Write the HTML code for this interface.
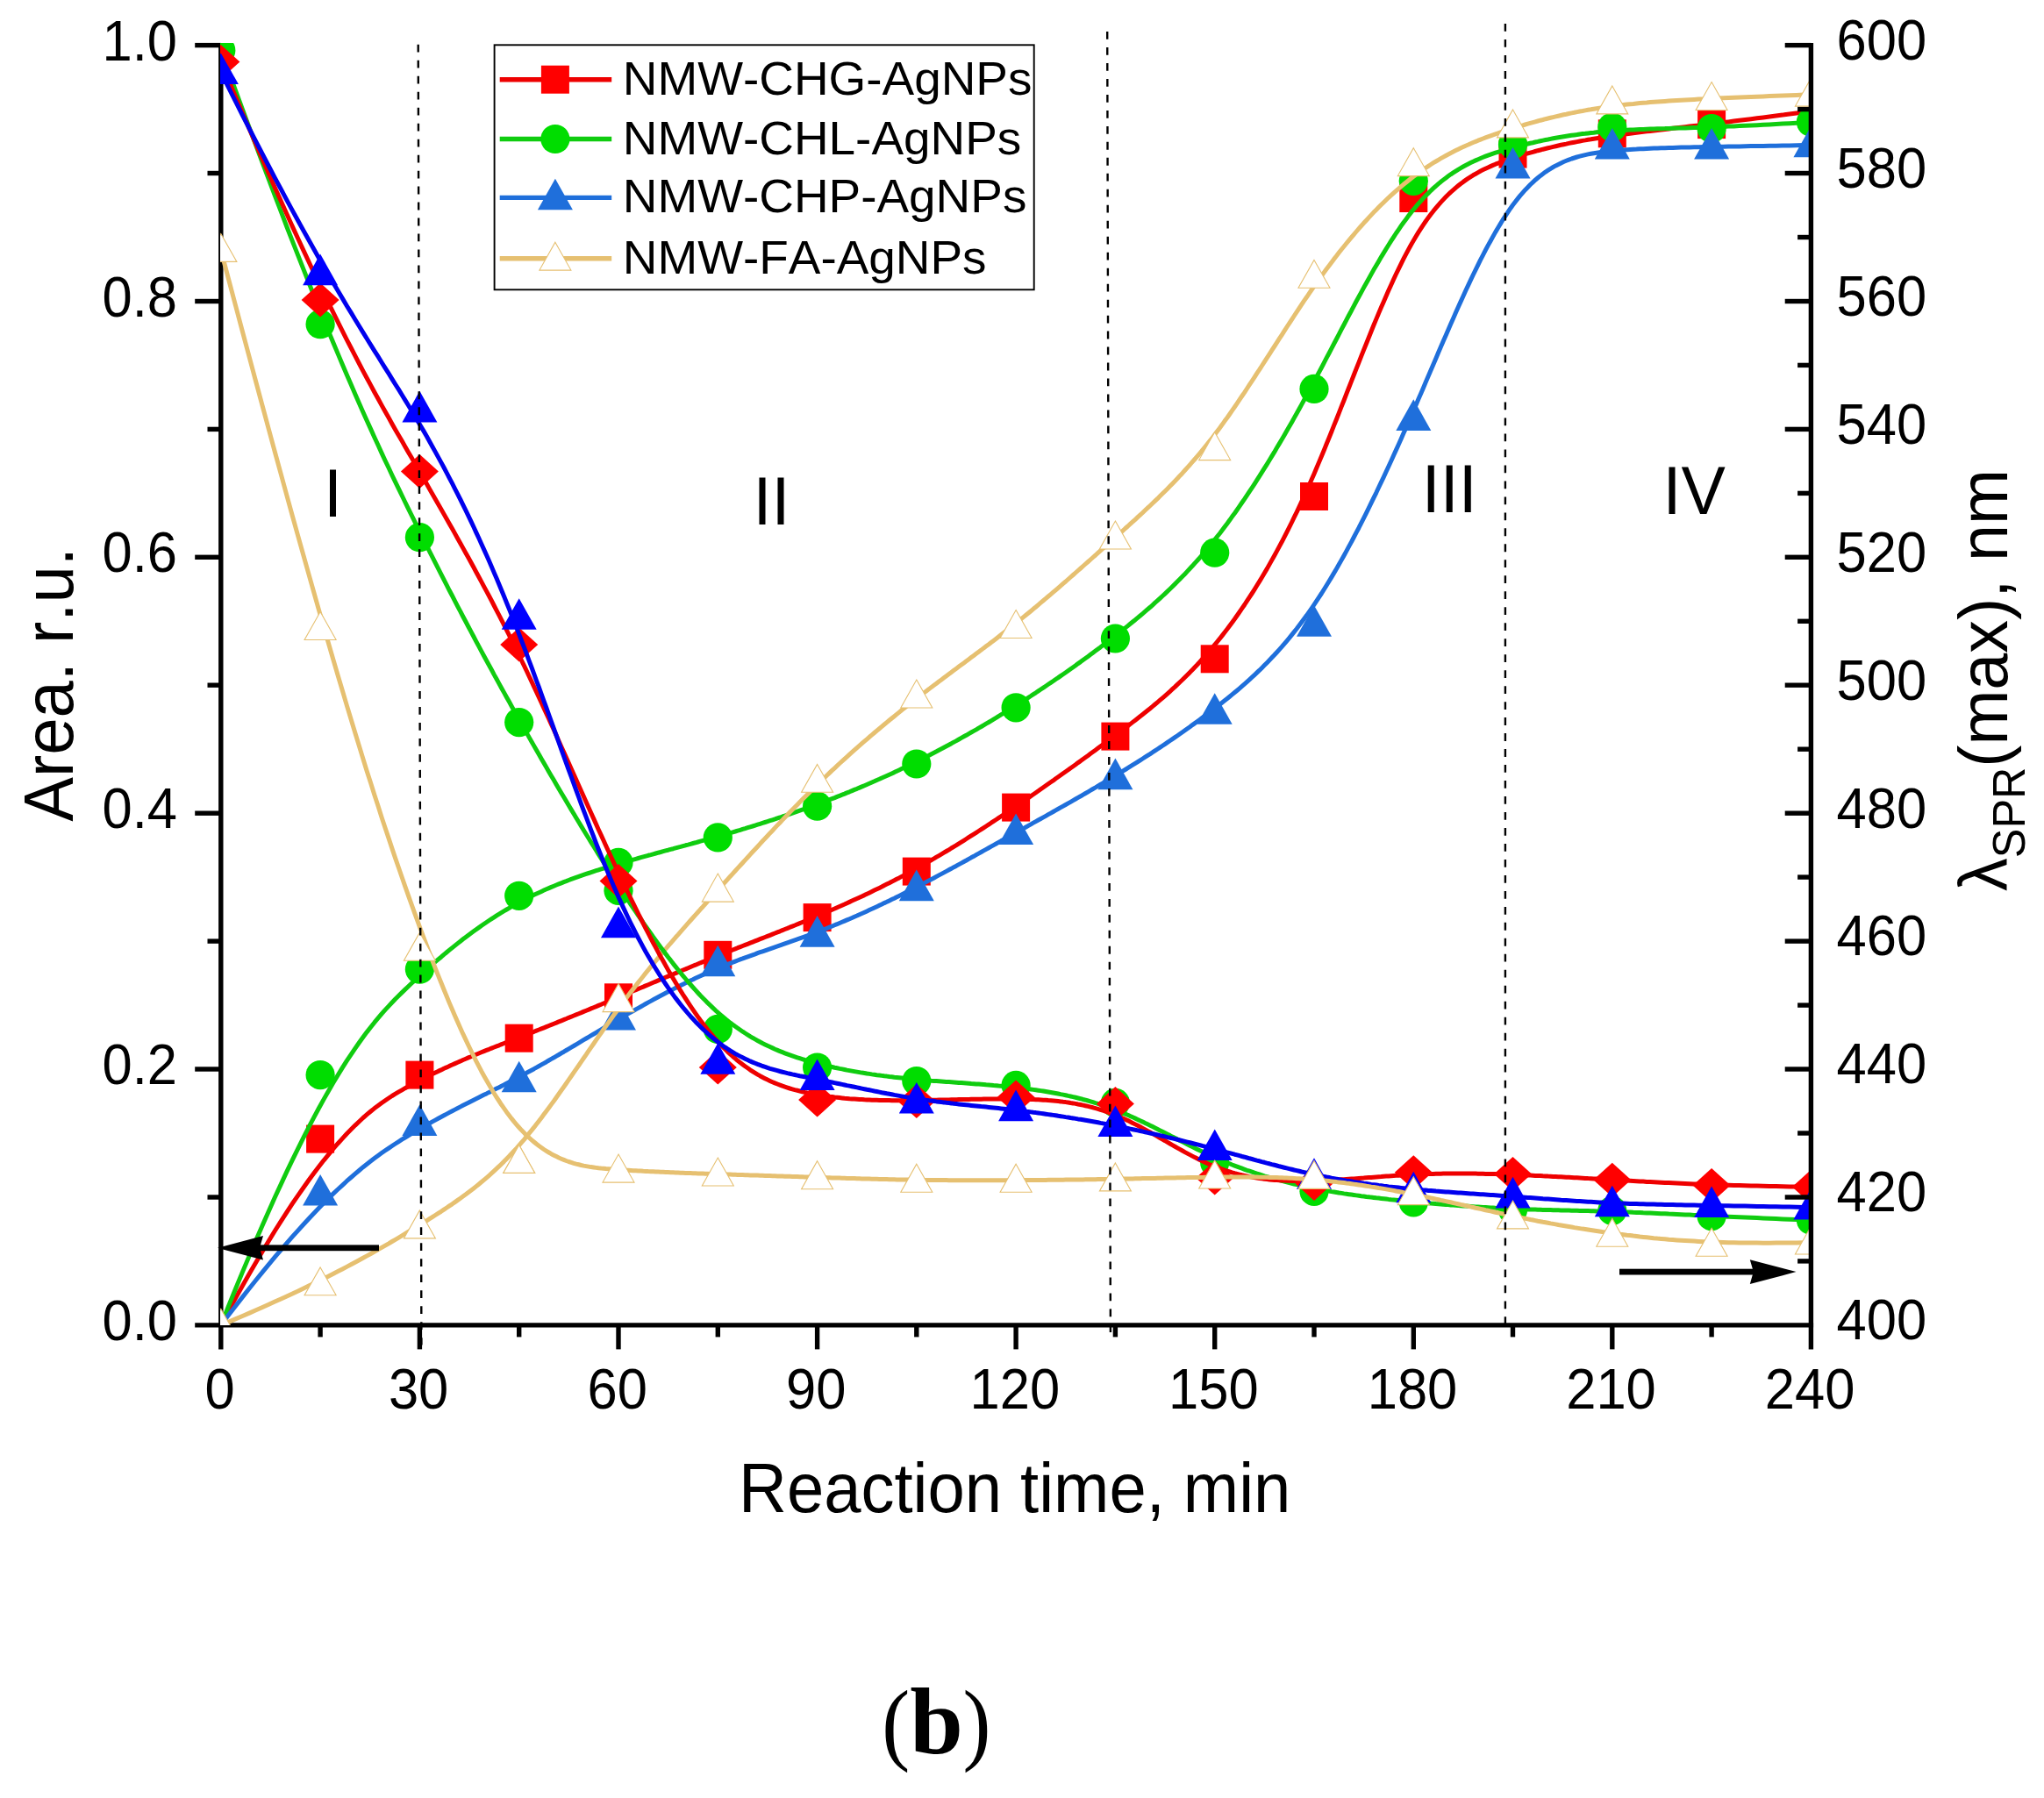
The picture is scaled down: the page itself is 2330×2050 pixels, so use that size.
<!DOCTYPE html>
<html><head><meta charset="utf-8"><title>Figure (b)</title>
<style>html,body{margin:0;padding:0;background:#fff}svg{display:block}text{font-family:"Liberation Sans",sans-serif;fill:#000;font-kerning:none}.s text{font-family:"Liberation Serif",serif}</style></head><body>
<svg width="2330" height="2050" viewBox="0 0 2330 2050">
<rect width="2330" height="2050" fill="#fff"/>
<defs><clipPath id="c"><rect x="251.0" y="49.1" width="1813.4" height="1461.8"/></clipPath></defs>
<g stroke="#000" stroke-width="5.4" fill="none">
<line x1="251.8" y1="48.9" x2="251.8" y2="1538.4"/>
<line x1="222.2" y1="1510.9" x2="2067.1" y2="1510.9"/>
<line x1="236.5" y1="1365.0" x2="251.8" y2="1365.0"/>
<line x1="222.2" y1="1219.0" x2="251.8" y2="1219.0"/>
<line x1="236.5" y1="1073.1" x2="251.8" y2="1073.1"/>
<line x1="222.2" y1="927.2" x2="251.8" y2="927.2"/>
<line x1="236.5" y1="781.2" x2="251.8" y2="781.2"/>
<line x1="222.2" y1="635.3" x2="251.8" y2="635.3"/>
<line x1="236.5" y1="489.4" x2="251.8" y2="489.4"/>
<line x1="222.2" y1="343.5" x2="251.8" y2="343.5"/>
<line x1="236.5" y1="197.5" x2="251.8" y2="197.5"/>
<line x1="222.2" y1="51.6" x2="251.8" y2="51.6"/>
<line x1="365.1" y1="1510.9" x2="365.1" y2="1524.4"/>
<line x1="478.4" y1="1510.9" x2="478.4" y2="1538.4"/>
<line x1="591.7" y1="1510.9" x2="591.7" y2="1524.4"/>
<line x1="705.0" y1="1510.9" x2="705.0" y2="1538.4"/>
<line x1="818.3" y1="1510.9" x2="818.3" y2="1524.4"/>
<line x1="931.6" y1="1510.9" x2="931.6" y2="1538.4"/>
<line x1="1044.8" y1="1510.9" x2="1044.8" y2="1524.4"/>
<line x1="1158.1" y1="1510.9" x2="1158.1" y2="1538.4"/>
<line x1="1271.4" y1="1510.9" x2="1271.4" y2="1524.4"/>
<line x1="1384.7" y1="1510.9" x2="1384.7" y2="1538.4"/>
<line x1="1498.0" y1="1510.9" x2="1498.0" y2="1524.4"/>
<line x1="1611.3" y1="1510.9" x2="1611.3" y2="1538.4"/>
<line x1="1724.5" y1="1510.9" x2="1724.5" y2="1524.4"/>
<line x1="1837.8" y1="1510.9" x2="1837.8" y2="1538.4"/>
<line x1="1951.1" y1="1510.9" x2="1951.1" y2="1524.4"/>
</g>
<g clip-path="url(#c)" fill="none" stroke-linecap="butt" stroke-linejoin="round">
<path d="M251.8 1510.9 L260.2 1495.3 L268.4 1480.3 L276.4 1466.0 L284.2 1452.3 L291.8 1439.2 L299.2 1426.7 L306.4 1414.7 L313.4 1403.3 L320.3 1392.4 L326.9 1382.1 L333.4 1372.2 L339.8 1362.8 L346.0 1354.0 L352.0 1345.5 L357.9 1337.5 L363.6 1330.0 L369.2 1322.8 L374.7 1316.1 L380.0 1309.7 L385.2 1303.7 L390.3 1298.1 L395.2 1292.8 L400.1 1287.8 L404.8 1283.1 L409.4 1278.7 L413.9 1274.5 L418.3 1270.7 L422.7 1267.0 L426.9 1263.6 L431.1 1260.5 L435.1 1257.5 L439.1 1254.7 L443.1 1252.0 L446.9 1249.5 L450.7 1247.2 L454.5 1244.9 L458.2 1242.8 L461.8 1240.7 L465.4 1238.8 L469.0 1236.9 L472.5 1235.0 L476.0 1233.2 L479.4 1231.4 L482.9 1229.6 L486.3 1227.9 L489.6 1226.2 L492.9 1224.6 L496.2 1223.0 L499.5 1221.4 L502.8 1219.9 L506.0 1218.3 L509.2 1216.9 L512.3 1215.4 L515.5 1214.0 L518.6 1212.6 L521.7 1211.2 L524.8 1209.9 L527.8 1208.5 L530.9 1207.2 L533.9 1205.9 L536.9 1204.7 L539.9 1203.4 L542.8 1202.2 L545.8 1201.0 L548.7 1199.8 L551.6 1198.6 L554.6 1197.4 L557.5 1196.3 L560.4 1195.1 L563.2 1194.0 L566.1 1192.9 L569.0 1191.8 L571.8 1190.6 L574.7 1189.5 L577.5 1188.4 L580.4 1187.3 L583.2 1186.2 L586.0 1185.1 L588.9 1184.0 L591.7 1182.9 L594.5 1181.8 L597.4 1180.7 L600.2 1179.6 L603.0 1178.5 L605.9 1177.4 L608.7 1176.3 L611.5 1175.1 L614.4 1174.0 L617.2 1172.9 L620.0 1171.8 L622.9 1170.6 L625.7 1169.5 L628.5 1168.4 L631.4 1167.2 L634.2 1166.1 L637.0 1164.9 L639.8 1163.8 L642.7 1162.6 L645.5 1161.5 L648.3 1160.3 L651.2 1159.2 L654.0 1158.0 L656.8 1156.9 L659.7 1155.7 L662.5 1154.6 L665.3 1153.4 L668.2 1152.2 L671.0 1151.1 L673.8 1149.9 L676.7 1148.7 L679.5 1147.6 L682.3 1146.4 L685.2 1145.2 L688.0 1144.0 L690.8 1142.9 L693.7 1141.7 L696.5 1140.5 L699.3 1139.3 L702.2 1138.1 L705.0 1137.0 L707.8 1135.8 L710.7 1134.6 L713.5 1133.4 L716.3 1132.2 L719.1 1131.0 L722.0 1129.8 L724.8 1128.6 L727.6 1127.4 L730.5 1126.2 L733.3 1125.1 L736.1 1123.9 L739.0 1122.7 L741.8 1121.5 L744.6 1120.3 L747.5 1119.1 L750.3 1117.9 L753.1 1116.7 L756.0 1115.5 L758.8 1114.3 L761.6 1113.1 L764.5 1111.9 L767.3 1110.8 L770.1 1109.6 L773.0 1108.4 L775.8 1107.2 L778.6 1106.0 L781.5 1104.9 L784.3 1103.7 L787.1 1102.5 L790.0 1101.3 L792.8 1100.2 L795.6 1099.0 L798.4 1097.8 L801.3 1096.7 L804.1 1095.5 L806.9 1094.4 L809.8 1093.2 L812.6 1092.1 L815.4 1090.9 L818.3 1089.8 L821.1 1088.6 L823.9 1087.5 L826.8 1086.4 L829.6 1085.2 L832.4 1084.1 L835.3 1083.0 L838.1 1081.9 L840.9 1080.7 L843.8 1079.6 L846.6 1078.5 L849.4 1077.4 L852.3 1076.3 L855.1 1075.2 L857.9 1074.1 L860.8 1072.9 L863.6 1071.8 L866.4 1070.7 L869.2 1069.6 L872.1 1068.5 L874.9 1067.4 L877.7 1066.3 L880.6 1065.1 L883.4 1064.0 L886.2 1062.9 L889.1 1061.8 L891.9 1060.6 L894.7 1059.5 L897.6 1058.4 L900.4 1057.2 L903.2 1056.1 L906.1 1055.0 L908.9 1053.8 L911.7 1052.7 L914.6 1051.5 L917.4 1050.4 L920.2 1049.2 L923.1 1048.0 L925.9 1046.8 L928.7 1045.7 L931.6 1044.5 L934.4 1043.3 L937.2 1042.1 L940.1 1040.9 L942.9 1039.7 L945.7 1038.4 L948.5 1037.2 L951.4 1036.0 L954.2 1034.7 L957.0 1033.5 L959.9 1032.2 L962.7 1031.0 L965.5 1029.7 L968.4 1028.4 L971.2 1027.1 L974.0 1025.8 L976.9 1024.5 L979.7 1023.2 L982.5 1021.9 L985.4 1020.6 L988.2 1019.2 L991.0 1017.9 L993.9 1016.5 L996.7 1015.1 L999.5 1013.8 L1002.4 1012.4 L1005.2 1011.0 L1008.0 1009.5 L1010.9 1008.1 L1013.7 1006.7 L1016.5 1005.2 L1019.4 1003.8 L1022.2 1002.3 L1025.0 1000.9 L1027.8 999.4 L1030.7 997.9 L1033.5 996.3 L1036.3 994.8 L1039.2 993.3 L1042.0 991.7 L1044.8 990.2 L1047.7 988.6 L1050.5 987.0 L1053.3 985.4 L1056.2 983.8 L1059.0 982.2 L1061.8 980.5 L1064.7 978.9 L1067.5 977.2 L1070.3 975.6 L1073.2 973.9 L1076.0 972.2 L1078.8 970.5 L1081.7 968.8 L1084.5 967.0 L1087.3 965.3 L1090.2 963.6 L1093.0 961.8 L1095.8 960.1 L1098.7 958.3 L1101.5 956.5 L1104.3 954.7 L1107.1 952.9 L1110.0 951.1 L1112.8 949.3 L1115.6 947.5 L1118.5 945.6 L1121.3 943.8 L1124.1 942.0 L1127.0 940.1 L1129.8 938.2 L1132.6 936.4 L1135.5 934.5 L1138.3 932.6 L1141.1 930.7 L1144.0 928.8 L1146.8 926.9 L1149.6 925.0 L1152.5 923.1 L1155.3 921.2 L1158.1 919.3 L1161.0 917.3 L1163.8 915.4 L1166.6 913.5 L1169.5 911.5 L1172.3 909.6 L1175.1 907.6 L1177.9 905.7 L1180.8 903.7 L1183.6 901.8 L1186.4 899.8 L1189.3 897.8 L1192.1 895.8 L1194.9 893.8 L1197.8 891.8 L1200.6 889.9 L1203.4 887.8 L1206.3 885.8 L1209.1 883.8 L1211.9 881.8 L1214.8 879.8 L1217.6 877.8 L1220.4 875.7 L1223.3 873.7 L1226.1 871.7 L1228.9 869.6 L1231.8 867.6 L1234.6 865.5 L1237.4 863.5 L1240.3 861.4 L1243.1 859.3 L1245.9 857.3 L1248.8 855.2 L1251.6 853.1 L1254.4 851.0 L1257.2 848.9 L1260.1 846.8 L1262.9 844.7 L1265.7 842.6 L1268.6 840.5 L1271.4 838.4 L1274.2 836.3 L1277.1 834.2 L1279.9 832.0 L1282.7 829.9 L1285.6 827.7 L1288.4 825.6 L1291.2 823.4 L1294.1 821.2 L1296.9 819.0 L1299.7 816.8 L1302.6 814.5 L1305.4 812.3 L1308.2 810.0 L1311.1 807.7 L1313.9 805.4 L1316.7 803.0 L1319.6 800.6 L1322.4 798.2 L1325.2 795.8 L1328.1 793.3 L1330.9 790.8 L1333.7 788.3 L1336.5 785.7 L1339.4 783.1 L1342.2 780.4 L1345.0 777.7 L1347.9 775.0 L1350.7 772.2 L1353.5 769.4 L1356.4 766.6 L1359.2 763.7 L1362.0 760.7 L1364.9 757.7 L1367.7 754.6 L1370.5 751.5 L1373.4 748.4 L1376.2 745.2 L1379.0 741.9 L1381.9 738.6 L1384.7 735.2 L1387.5 731.7 L1390.4 728.2 L1393.2 724.6 L1396.0 721.0 L1398.9 717.3 L1401.7 713.5 L1404.5 709.7 L1407.4 705.8 L1410.2 701.8 L1413.0 697.8 L1415.8 693.7 L1418.7 689.5 L1421.5 685.2 L1424.3 680.9 L1427.2 676.5 L1430.0 672.1 L1432.8 667.5 L1435.7 662.9 L1438.5 658.2 L1441.3 653.4 L1444.2 648.6 L1447.0 643.6 L1449.8 638.6 L1452.7 633.5 L1455.5 628.4 L1458.3 623.1 L1461.2 617.8 L1464.0 612.3 L1466.8 606.8 L1469.7 601.2 L1472.5 595.5 L1475.3 589.7 L1478.2 583.9 L1481.0 577.9 L1483.8 571.9 L1486.6 565.7 L1489.5 559.5 L1492.3 553.2 L1495.1 546.7 L1498.0 540.2 L1500.8 533.6 L1503.6 526.9 L1506.5 520.1 L1509.3 513.3 L1512.1 506.3 L1515.0 499.3 L1517.8 492.3 L1520.6 485.2 L1523.5 478.0 L1526.3 470.9 L1529.1 463.7 L1532.0 456.5 L1534.8 449.2 L1537.6 442.0 L1540.5 434.7 L1543.3 427.5 L1546.1 420.3 L1549.0 413.1 L1551.8 405.9 L1554.6 398.8 L1557.5 391.7 L1560.3 384.7 L1563.1 377.7 L1565.9 370.8 L1568.8 363.9 L1571.6 357.1 L1574.4 350.5 L1577.3 343.9 L1580.1 337.4 L1582.9 331.0 L1585.8 324.7 L1588.6 318.5 L1591.4 312.5 L1594.3 306.6 L1597.1 300.8 L1599.9 295.2 L1602.8 289.7 L1605.6 284.4 L1608.4 279.2 L1611.3 274.3 L1614.1 269.5 L1616.9 264.9 L1619.8 260.4 L1622.6 256.2 L1625.4 252.0 L1628.3 248.1 L1631.1 244.3 L1633.9 240.7 L1636.8 237.2 L1639.6 233.8 L1642.4 230.6 L1645.2 227.6 L1648.1 224.6 L1650.9 221.8 L1653.7 219.1 L1656.6 216.6 L1659.4 214.1 L1662.2 211.8 L1665.1 209.5 L1667.9 207.4 L1670.7 205.4 L1673.6 203.4 L1676.4 201.6 L1679.2 199.8 L1682.1 198.2 L1684.9 196.6 L1687.7 195.0 L1690.6 193.6 L1693.4 192.2 L1696.2 190.9 L1699.1 189.6 L1701.9 188.4 L1704.7 187.2 L1707.6 186.1 L1710.4 185.0 L1713.2 184.0 L1716.1 183.0 L1718.9 182.0 L1721.7 181.1 L1724.5 180.1 L1727.4 179.2 L1730.2 178.3 L1733.0 177.5 L1735.9 176.6 L1738.7 175.7 L1741.6 174.9 L1744.4 174.1 L1747.3 173.3 L1750.1 172.5 L1753.0 171.7 L1755.9 171.0 L1758.8 170.2 L1761.7 169.5 L1764.6 168.8 L1767.5 168.1 L1770.5 167.4 L1773.4 166.7 L1776.4 166.0 L1779.4 165.3 L1782.4 164.7 L1785.4 164.1 L1788.4 163.4 L1791.5 162.8 L1794.6 162.2 L1797.7 161.6 L1800.8 161.0 L1803.9 160.4 L1807.1 159.9 L1810.3 159.3 L1813.5 158.8 L1816.7 158.2 L1820.0 157.7 L1823.3 157.2 L1826.6 156.6 L1830.0 156.1 L1833.4 155.6 L1836.8 155.1 L1840.3 154.6 L1843.7 154.1 L1847.3 153.6 L1850.8 153.1 L1854.4 152.7 L1858.1 152.2 L1861.8 151.7 L1865.5 151.3 L1869.3 150.8 L1873.2 150.3 L1877.1 149.8 L1881.1 149.4 L1885.2 148.9 L1889.3 148.4 L1893.6 147.9 L1897.9 147.4 L1902.3 146.9 L1906.8 146.3 L1911.5 145.8 L1916.2 145.2 L1921.0 144.7 L1926.0 144.1 L1931.1 143.5 L1936.3 142.9 L1941.6 142.3 L1947.0 141.6 L1952.6 141.0 L1958.4 140.3 L1964.2 139.6 L1970.3 138.9 L1976.5 138.1 L1982.8 137.3 L1989.3 136.5 L1996.0 135.7 L2002.8 134.8 L2009.9 133.9 L2017.1 133.0 L2024.5 132.0 L2032.1 131.1 L2039.8 130.0 L2047.8 129.0 L2056.0 127.9 L2064.4 126.8" stroke="#ee0000" stroke-width="5.0"/>
<rect x="349.1" y="1282.6" width="32.0" height="32.0" fill="#ff0000"/>
<rect x="462.4" y="1209.6" width="32.0" height="32.0" fill="#ff0000"/>
<rect x="575.7" y="1167.7" width="32.0" height="32.0" fill="#ff0000"/>
<rect x="689.0" y="1121.3" width="32.0" height="32.0" fill="#ff0000"/>
<rect x="802.3" y="1072.8" width="32.0" height="32.0" fill="#ff0000"/>
<rect x="915.6" y="1030.1" width="32.0" height="32.0" fill="#ff0000"/>
<rect x="1028.8" y="977.6" width="32.0" height="32.0" fill="#ff0000"/>
<rect x="1142.1" y="904.6" width="32.0" height="32.0" fill="#ff0000"/>
<rect x="1255.4" y="823.6" width="32.0" height="32.0" fill="#ff0000"/>
<rect x="1368.7" y="735.3" width="32.0" height="32.0" fill="#ff0000"/>
<rect x="1482.0" y="550.0" width="32.0" height="32.0" fill="#ff0000"/>
<rect x="1595.3" y="210.0" width="32.0" height="32.0" fill="#ff0000"/>
<rect x="1708.5" y="159.6" width="32.0" height="32.0" fill="#ff0000"/>
<rect x="1821.8" y="136.3" width="32.0" height="32.0" fill="#ff0000"/>
<rect x="1935.1" y="126.1" width="32.0" height="32.0" fill="#ff0000"/>
<path d="M251.8 1510.9 L260.2 1489.9 L268.4 1469.8 L276.4 1450.4 L284.2 1431.9 L291.8 1414.1 L299.2 1397.0 L306.4 1380.7 L313.4 1365.1 L320.3 1350.1 L326.9 1335.9 L333.4 1322.3 L339.8 1309.3 L346.0 1296.9 L352.0 1285.1 L357.9 1273.9 L363.6 1263.2 L369.2 1253.1 L374.7 1243.5 L380.0 1234.3 L385.2 1225.7 L390.3 1217.4 L395.2 1209.7 L400.1 1202.3 L404.8 1195.3 L409.4 1188.7 L413.9 1182.5 L418.3 1176.6 L422.7 1171.0 L426.9 1165.7 L431.1 1160.7 L435.1 1155.9 L439.1 1151.4 L443.1 1147.1 L446.9 1143.0 L450.7 1139.0 L454.5 1135.2 L458.2 1131.6 L461.8 1128.1 L465.4 1124.7 L469.0 1121.3 L472.5 1118.1 L476.0 1114.8 L479.4 1111.7 L482.9 1108.6 L486.3 1105.5 L489.6 1102.5 L492.9 1099.6 L496.2 1096.7 L499.5 1093.9 L502.8 1091.2 L506.0 1088.4 L509.2 1085.8 L512.3 1083.2 L515.5 1080.6 L518.6 1078.1 L521.7 1075.6 L524.8 1073.2 L527.8 1070.8 L530.9 1068.5 L533.9 1066.2 L536.9 1064.0 L539.9 1061.8 L542.8 1059.7 L545.8 1057.6 L548.7 1055.5 L551.6 1053.5 L554.6 1051.5 L557.5 1049.5 L560.4 1047.6 L563.2 1045.8 L566.1 1043.9 L569.0 1042.1 L571.8 1040.4 L574.7 1038.7 L577.5 1037.0 L580.4 1035.3 L583.2 1033.7 L586.0 1032.1 L588.9 1030.5 L591.7 1029.0 L594.5 1027.5 L597.4 1026.0 L600.2 1024.5 L603.0 1023.1 L605.9 1021.7 L608.7 1020.3 L611.5 1019.0 L614.4 1017.7 L617.2 1016.4 L620.0 1015.1 L622.9 1013.8 L625.7 1012.6 L628.5 1011.4 L631.4 1010.2 L634.2 1009.0 L637.0 1007.9 L639.8 1006.8 L642.7 1005.6 L645.5 1004.6 L648.3 1003.5 L651.2 1002.4 L654.0 1001.4 L656.8 1000.4 L659.7 999.4 L662.5 998.4 L665.3 997.4 L668.2 996.4 L671.0 995.5 L673.8 994.6 L676.7 993.6 L679.5 992.7 L682.3 991.8 L685.2 990.9 L688.0 990.1 L690.8 989.2 L693.7 988.3 L696.5 987.5 L699.3 986.6 L702.2 985.8 L705.0 984.9 L707.8 984.1 L710.7 983.3 L713.5 982.5 L716.3 981.7 L719.1 980.9 L722.0 980.1 L724.8 979.3 L727.6 978.5 L730.5 977.7 L733.3 976.9 L736.1 976.1 L739.0 975.3 L741.8 974.6 L744.6 973.8 L747.5 973.0 L750.3 972.2 L753.1 971.5 L756.0 970.7 L758.8 969.9 L761.6 969.2 L764.5 968.4 L767.3 967.7 L770.1 966.9 L773.0 966.1 L775.8 965.4 L778.6 964.6 L781.5 963.8 L784.3 963.1 L787.1 962.3 L790.0 961.5 L792.8 960.8 L795.6 960.0 L798.4 959.2 L801.3 958.4 L804.1 957.7 L806.9 956.9 L809.8 956.1 L812.6 955.3 L815.4 954.5 L818.3 953.7 L821.1 952.9 L823.9 952.1 L826.8 951.3 L829.6 950.4 L832.4 949.6 L835.3 948.8 L838.1 948.0 L840.9 947.1 L843.8 946.3 L846.6 945.4 L849.4 944.6 L852.3 943.7 L855.1 942.8 L857.9 942.0 L860.8 941.1 L863.6 940.2 L866.4 939.3 L869.2 938.4 L872.1 937.5 L874.9 936.6 L877.7 935.7 L880.6 934.8 L883.4 933.9 L886.2 932.9 L889.1 932.0 L891.9 931.0 L894.7 930.1 L897.6 929.1 L900.4 928.2 L903.2 927.2 L906.1 926.2 L908.9 925.2 L911.7 924.2 L914.6 923.2 L917.4 922.2 L920.2 921.2 L923.1 920.2 L925.9 919.2 L928.7 918.1 L931.6 917.1 L934.4 916.0 L937.2 915.0 L940.1 913.9 L942.9 912.8 L945.7 911.7 L948.5 910.7 L951.4 909.6 L954.2 908.4 L957.0 907.3 L959.9 906.2 L962.7 905.1 L965.5 903.9 L968.4 902.8 L971.2 901.6 L974.0 900.4 L976.9 899.3 L979.7 898.1 L982.5 896.9 L985.4 895.7 L988.2 894.5 L991.0 893.3 L993.9 892.0 L996.7 890.8 L999.5 889.5 L1002.4 888.3 L1005.2 887.0 L1008.0 885.8 L1010.9 884.5 L1013.7 883.2 L1016.5 881.9 L1019.4 880.6 L1022.2 879.2 L1025.0 877.9 L1027.8 876.6 L1030.7 875.2 L1033.5 873.9 L1036.3 872.5 L1039.2 871.1 L1042.0 869.7 L1044.8 868.3 L1047.7 866.9 L1050.5 865.5 L1053.3 864.1 L1056.2 862.6 L1059.0 861.2 L1061.8 859.7 L1064.7 858.2 L1067.5 856.8 L1070.3 855.3 L1073.2 853.8 L1076.0 852.3 L1078.8 850.8 L1081.7 849.2 L1084.5 847.7 L1087.3 846.1 L1090.2 844.6 L1093.0 843.0 L1095.8 841.4 L1098.7 839.8 L1101.5 838.3 L1104.3 836.6 L1107.1 835.0 L1110.0 833.4 L1112.8 831.8 L1115.6 830.1 L1118.5 828.5 L1121.3 826.8 L1124.1 825.1 L1127.0 823.5 L1129.8 821.8 L1132.6 820.1 L1135.5 818.4 L1138.3 816.6 L1141.1 814.9 L1144.0 813.2 L1146.8 811.4 L1149.6 809.7 L1152.5 807.9 L1155.3 806.1 L1158.1 804.4 L1161.0 802.6 L1163.8 800.8 L1166.6 799.0 L1169.5 797.1 L1172.3 795.3 L1175.1 793.5 L1177.9 791.6 L1180.8 789.8 L1183.6 787.9 L1186.4 786.0 L1189.3 784.1 L1192.1 782.2 L1194.9 780.3 L1197.8 778.4 L1200.6 776.5 L1203.4 774.5 L1206.3 772.6 L1209.1 770.6 L1211.9 768.7 L1214.8 766.7 L1217.6 764.7 L1220.4 762.7 L1223.3 760.7 L1226.1 758.7 L1228.9 756.6 L1231.8 754.6 L1234.6 752.5 L1237.4 750.5 L1240.3 748.4 L1243.1 746.3 L1245.9 744.2 L1248.8 742.1 L1251.6 740.0 L1254.4 737.9 L1257.2 735.7 L1260.1 733.6 L1262.9 731.4 L1265.7 729.2 L1268.6 727.0 L1271.4 724.8 L1274.2 722.6 L1277.1 720.4 L1279.9 718.1 L1282.7 715.9 L1285.6 713.6 L1288.4 711.3 L1291.2 709.0 L1294.1 706.7 L1296.9 704.3 L1299.7 702.0 L1302.6 699.6 L1305.4 697.2 L1308.2 694.7 L1311.1 692.3 L1313.9 689.8 L1316.7 687.2 L1319.6 684.7 L1322.4 682.1 L1325.2 679.5 L1328.1 676.8 L1330.9 674.2 L1333.7 671.5 L1336.5 668.7 L1339.4 665.9 L1342.2 663.1 L1345.0 660.2 L1347.9 657.3 L1350.7 654.4 L1353.5 651.4 L1356.4 648.3 L1359.2 645.3 L1362.0 642.1 L1364.9 639.0 L1367.7 635.8 L1370.5 632.5 L1373.4 629.2 L1376.2 625.8 L1379.0 622.4 L1381.9 618.9 L1384.7 615.4 L1387.5 611.8 L1390.4 608.2 L1393.2 604.5 L1396.0 600.7 L1398.9 596.9 L1401.7 593.1 L1404.5 589.1 L1407.4 585.2 L1410.2 581.2 L1413.0 577.1 L1415.8 573.0 L1418.7 568.9 L1421.5 564.7 L1424.3 560.4 L1427.2 556.1 L1430.0 551.8 L1432.8 547.4 L1435.7 542.9 L1438.5 538.4 L1441.3 533.9 L1444.2 529.3 L1447.0 524.7 L1449.8 520.1 L1452.7 515.4 L1455.5 510.6 L1458.3 505.9 L1461.2 501.0 L1464.0 496.2 L1466.8 491.3 L1469.7 486.3 L1472.5 481.4 L1475.3 476.4 L1478.2 471.3 L1481.0 466.2 L1483.8 461.1 L1486.6 456.0 L1489.5 450.8 L1492.3 445.6 L1495.1 440.3 L1498.0 435.0 L1500.8 429.7 L1503.6 424.4 L1506.5 419.0 L1509.3 413.6 L1512.1 408.2 L1515.0 402.8 L1517.8 397.4 L1520.6 392.0 L1523.5 386.5 L1526.3 381.1 L1529.1 375.7 L1532.0 370.3 L1534.8 364.9 L1537.6 359.5 L1540.5 354.2 L1543.3 348.8 L1546.1 343.5 L1549.0 338.3 L1551.8 333.1 L1554.6 327.9 L1557.5 322.7 L1560.3 317.7 L1563.1 312.6 L1565.9 307.6 L1568.8 302.7 L1571.6 297.9 L1574.4 293.1 L1577.3 288.4 L1580.1 283.7 L1582.9 279.2 L1585.8 274.7 L1588.6 270.3 L1591.4 266.0 L1594.3 261.8 L1597.1 257.7 L1599.9 253.7 L1602.8 249.9 L1605.6 246.1 L1608.4 242.4 L1611.3 238.9 L1614.1 235.5 L1616.9 232.1 L1619.8 229.0 L1622.6 225.9 L1625.4 222.9 L1628.3 220.1 L1631.1 217.3 L1633.9 214.7 L1636.8 212.1 L1639.6 209.7 L1642.4 207.3 L1645.2 205.1 L1648.1 202.9 L1650.9 200.8 L1653.7 198.8 L1656.6 196.9 L1659.4 195.1 L1662.2 193.3 L1665.1 191.6 L1667.9 190.0 L1670.7 188.5 L1673.6 187.0 L1676.4 185.6 L1679.2 184.2 L1682.1 182.9 L1684.9 181.7 L1687.7 180.5 L1690.6 179.3 L1693.4 178.2 L1696.2 177.1 L1699.1 176.1 L1701.9 175.1 L1704.7 174.2 L1707.6 173.3 L1710.4 172.4 L1713.2 171.5 L1716.1 170.7 L1718.9 169.9 L1721.7 169.1 L1724.5 168.3 L1727.4 167.6 L1730.2 166.8 L1733.0 166.1 L1735.9 165.4 L1738.7 164.7 L1741.6 164.0 L1744.4 163.3 L1747.3 162.7 L1750.1 162.0 L1753.0 161.4 L1755.9 160.7 L1758.8 160.1 L1761.7 159.5 L1764.6 159.0 L1767.5 158.4 L1770.5 157.8 L1773.4 157.3 L1776.4 156.8 L1779.4 156.3 L1782.4 155.8 L1785.4 155.3 L1788.4 154.8 L1791.5 154.3 L1794.6 153.9 L1797.7 153.5 L1800.8 153.0 L1803.9 152.6 L1807.1 152.3 L1810.3 151.9 L1813.5 151.5 L1816.7 151.2 L1820.0 150.8 L1823.3 150.5 L1826.6 150.2 L1830.0 149.9 L1833.4 149.6 L1836.8 149.4 L1840.3 149.1 L1843.7 148.9 L1847.3 148.6 L1850.8 148.4 L1854.4 148.2 L1858.1 148.0 L1861.8 147.9 L1865.5 147.7 L1869.3 147.5 L1873.2 147.4 L1877.1 147.2 L1881.1 147.1 L1885.2 147.0 L1889.3 146.8 L1893.6 146.7 L1897.9 146.6 L1902.3 146.4 L1906.8 146.3 L1911.5 146.1 L1916.2 146.0 L1921.0 145.9 L1926.0 145.7 L1931.1 145.5 L1936.3 145.4 L1941.6 145.2 L1947.0 145.0 L1952.6 144.8 L1958.4 144.6 L1964.2 144.4 L1970.3 144.1 L1976.5 143.9 L1982.8 143.6 L1989.3 143.3 L1996.0 143.0 L2002.8 142.7 L2009.9 142.3 L2017.1 141.9 L2024.5 141.5 L2032.1 141.1 L2039.8 140.7 L2047.8 140.2 L2056.0 139.7 L2064.4 139.2" stroke="#10cc10" stroke-width="5.0"/>
<circle cx="365.1" cy="1225.6" r="16.6" fill="#00dd00"/>
<circle cx="478.4" cy="1105.2" r="16.6" fill="#00dd00"/>
<circle cx="591.7" cy="1021.3" r="16.6" fill="#00dd00"/>
<circle cx="705.0" cy="983.4" r="16.6" fill="#00dd00"/>
<circle cx="818.3" cy="954.9" r="16.6" fill="#00dd00"/>
<circle cx="931.6" cy="919.2" r="16.6" fill="#00dd00"/>
<circle cx="1044.8" cy="871.0" r="16.6" fill="#00dd00"/>
<circle cx="1158.1" cy="806.8" r="16.6" fill="#00dd00"/>
<circle cx="1271.4" cy="728.0" r="16.6" fill="#00dd00"/>
<circle cx="1384.7" cy="630.2" r="16.6" fill="#00dd00"/>
<circle cx="1498.0" cy="443.4" r="16.6" fill="#00dd00"/>
<circle cx="1611.3" cy="206.3" r="16.6" fill="#00dd00"/>
<circle cx="1724.5" cy="164.7" r="16.6" fill="#00dd00"/>
<circle cx="1837.8" cy="145.0" r="16.6" fill="#00dd00"/>
<circle cx="1951.1" cy="146.5" r="16.6" fill="#00dd00"/>
<circle cx="2064.4" cy="139.2" r="16.6" fill="#00dd00"/>
<path d="M251.8 1510.9 L260.2 1499.8 L268.4 1489.2 L276.4 1478.9 L284.2 1469.0 L291.8 1459.5 L299.2 1450.4 L306.4 1441.6 L313.4 1433.2 L320.3 1425.1 L326.9 1417.3 L333.4 1409.9 L339.8 1402.8 L346.0 1396.0 L352.0 1389.5 L357.9 1383.2 L363.6 1377.3 L369.2 1371.6 L374.7 1366.1 L380.0 1360.9 L385.2 1356.0 L390.3 1351.3 L395.2 1346.7 L400.1 1342.5 L404.8 1338.4 L409.4 1334.5 L413.9 1330.7 L418.3 1327.2 L422.7 1323.8 L426.9 1320.6 L431.1 1317.5 L435.1 1314.6 L439.1 1311.8 L443.1 1309.1 L446.9 1306.5 L450.7 1304.0 L454.5 1301.6 L458.2 1299.2 L461.8 1297.0 L465.4 1294.8 L469.0 1292.7 L472.5 1290.6 L476.0 1288.5 L479.4 1286.5 L482.9 1284.6 L486.3 1282.6 L489.6 1280.7 L492.9 1278.9 L496.2 1277.1 L499.5 1275.3 L502.8 1273.5 L506.0 1271.8 L509.2 1270.1 L512.3 1268.4 L515.5 1266.7 L518.6 1265.1 L521.7 1263.5 L524.8 1261.9 L527.8 1260.3 L530.9 1258.8 L533.9 1257.3 L536.9 1255.7 L539.9 1254.2 L542.8 1252.8 L545.8 1251.3 L548.7 1249.8 L551.6 1248.3 L554.6 1246.9 L557.5 1245.4 L560.4 1244.0 L563.2 1242.5 L566.1 1241.1 L569.0 1239.7 L571.8 1238.2 L574.7 1236.8 L577.5 1235.3 L580.4 1233.8 L583.2 1232.4 L586.0 1230.9 L588.9 1229.4 L591.7 1227.9 L594.5 1226.4 L597.4 1224.9 L600.2 1223.3 L603.0 1221.8 L605.9 1220.2 L608.7 1218.7 L611.5 1217.1 L614.4 1215.5 L617.2 1213.9 L620.0 1212.3 L622.9 1210.7 L625.7 1209.0 L628.5 1207.4 L631.4 1205.8 L634.2 1204.1 L637.0 1202.5 L639.8 1200.8 L642.7 1199.2 L645.5 1197.5 L648.3 1195.8 L651.2 1194.1 L654.0 1192.5 L656.8 1190.8 L659.7 1189.1 L662.5 1187.4 L665.3 1185.7 L668.2 1184.0 L671.0 1182.3 L673.8 1180.7 L676.7 1179.0 L679.5 1177.3 L682.3 1175.6 L685.2 1173.9 L688.0 1172.2 L690.8 1170.6 L693.7 1168.9 L696.5 1167.2 L699.3 1165.6 L702.2 1163.9 L705.0 1162.2 L707.8 1160.6 L710.7 1159.0 L713.5 1157.3 L716.3 1155.7 L719.1 1154.1 L722.0 1152.5 L724.8 1150.9 L727.6 1149.3 L730.5 1147.7 L733.3 1146.1 L736.1 1144.5 L739.0 1142.9 L741.8 1141.4 L744.6 1139.8 L747.5 1138.3 L750.3 1136.8 L753.1 1135.3 L756.0 1133.8 L758.8 1132.3 L761.6 1130.8 L764.5 1129.3 L767.3 1127.9 L770.1 1126.4 L773.0 1125.0 L775.8 1123.6 L778.6 1122.2 L781.5 1120.8 L784.3 1119.4 L787.1 1118.0 L790.0 1116.7 L792.8 1115.3 L795.6 1114.0 L798.4 1112.7 L801.3 1111.4 L804.1 1110.1 L806.9 1108.9 L809.8 1107.6 L812.6 1106.4 L815.4 1105.2 L818.3 1104.0 L821.1 1102.8 L823.9 1101.7 L826.8 1100.5 L829.6 1099.4 L832.4 1098.3 L835.3 1097.2 L838.1 1096.1 L840.9 1095.0 L843.8 1093.9 L846.6 1092.9 L849.4 1091.8 L852.3 1090.8 L855.1 1089.8 L857.9 1088.8 L860.8 1087.8 L863.6 1086.7 L866.4 1085.7 L869.2 1084.8 L872.1 1083.8 L874.9 1082.8 L877.7 1081.8 L880.6 1080.8 L883.4 1079.8 L886.2 1078.9 L889.1 1077.9 L891.9 1076.9 L894.7 1075.9 L897.6 1074.9 L900.4 1073.9 L903.2 1072.9 L906.1 1071.9 L908.9 1070.9 L911.7 1069.9 L914.6 1068.9 L917.4 1067.9 L920.2 1066.9 L923.1 1065.8 L925.9 1064.8 L928.7 1063.7 L931.6 1062.7 L934.4 1061.6 L937.2 1060.5 L940.1 1059.4 L942.9 1058.3 L945.7 1057.1 L948.5 1056.0 L951.4 1054.8 L954.2 1053.7 L957.0 1052.5 L959.9 1051.3 L962.7 1050.1 L965.5 1048.9 L968.4 1047.7 L971.2 1046.5 L974.0 1045.2 L976.9 1044.0 L979.7 1042.7 L982.5 1041.5 L985.4 1040.2 L988.2 1038.9 L991.0 1037.6 L993.9 1036.3 L996.7 1035.0 L999.5 1033.7 L1002.4 1032.3 L1005.2 1031.0 L1008.0 1029.6 L1010.9 1028.3 L1013.7 1026.9 L1016.5 1025.5 L1019.4 1024.2 L1022.2 1022.8 L1025.0 1021.4 L1027.8 1020.0 L1030.7 1018.5 L1033.5 1017.1 L1036.3 1015.7 L1039.2 1014.2 L1042.0 1012.8 L1044.8 1011.3 L1047.7 1009.9 L1050.5 1008.4 L1053.3 1006.9 L1056.2 1005.4 L1059.0 1003.9 L1061.8 1002.5 L1064.7 1001.0 L1067.5 999.4 L1070.3 997.9 L1073.2 996.4 L1076.0 994.9 L1078.8 993.4 L1081.7 991.8 L1084.5 990.3 L1087.3 988.7 L1090.2 987.2 L1093.0 985.6 L1095.8 984.1 L1098.7 982.5 L1101.5 981.0 L1104.3 979.4 L1107.1 977.8 L1110.0 976.3 L1112.8 974.7 L1115.6 973.1 L1118.5 971.5 L1121.3 969.9 L1124.1 968.4 L1127.0 966.8 L1129.8 965.2 L1132.6 963.6 L1135.5 962.0 L1138.3 960.4 L1141.1 958.8 L1144.0 957.3 L1146.8 955.7 L1149.6 954.1 L1152.5 952.5 L1155.3 950.9 L1158.1 949.3 L1161.0 947.7 L1163.8 946.1 L1166.6 944.6 L1169.5 943.0 L1172.3 941.4 L1175.1 939.8 L1177.9 938.2 L1180.8 936.6 L1183.6 935.0 L1186.4 933.5 L1189.3 931.9 L1192.1 930.3 L1194.9 928.7 L1197.8 927.1 L1200.6 925.5 L1203.4 923.9 L1206.3 922.3 L1209.1 920.7 L1211.9 919.1 L1214.8 917.5 L1217.6 915.9 L1220.4 914.3 L1223.3 912.6 L1226.1 911.0 L1228.9 909.4 L1231.8 907.8 L1234.6 906.1 L1237.4 904.5 L1240.3 902.8 L1243.1 901.2 L1245.9 899.5 L1248.8 897.9 L1251.6 896.2 L1254.4 894.5 L1257.2 892.9 L1260.1 891.2 L1262.9 889.5 L1265.7 887.8 L1268.6 886.1 L1271.4 884.4 L1274.2 882.7 L1277.1 880.9 L1279.9 879.2 L1282.7 877.5 L1285.6 875.7 L1288.4 873.9 L1291.2 872.2 L1294.1 870.4 L1296.9 868.6 L1299.7 866.8 L1302.6 865.0 L1305.4 863.2 L1308.2 861.4 L1311.1 859.6 L1313.9 857.7 L1316.7 855.9 L1319.6 854.0 L1322.4 852.1 L1325.2 850.2 L1328.1 848.3 L1330.9 846.4 L1333.7 844.5 L1336.5 842.6 L1339.4 840.6 L1342.2 838.7 L1345.0 836.7 L1347.9 834.7 L1350.7 832.7 L1353.5 830.7 L1356.4 828.7 L1359.2 826.6 L1362.0 824.6 L1364.9 822.5 L1367.7 820.4 L1370.5 818.3 L1373.4 816.2 L1376.2 814.1 L1379.0 812.0 L1381.9 809.8 L1384.7 807.6 L1387.5 805.5 L1390.4 803.2 L1393.2 801.0 L1396.0 798.8 L1398.9 796.5 L1401.7 794.2 L1404.5 791.9 L1407.4 789.5 L1410.2 787.2 L1413.0 784.8 L1415.8 782.3 L1418.7 779.8 L1421.5 777.3 L1424.3 774.8 L1427.2 772.2 L1430.0 769.6 L1432.8 766.9 L1435.7 764.2 L1438.5 761.4 L1441.3 758.6 L1444.2 755.7 L1447.0 752.8 L1449.8 749.8 L1452.7 746.8 L1455.5 743.7 L1458.3 740.6 L1461.2 737.4 L1464.0 734.1 L1466.8 730.8 L1469.7 727.4 L1472.5 723.9 L1475.3 720.4 L1478.2 716.8 L1481.0 713.1 L1483.8 709.3 L1486.6 705.5 L1489.5 701.6 L1492.3 697.6 L1495.1 693.6 L1498.0 689.4 L1500.8 685.2 L1503.6 680.9 L1506.5 676.5 L1509.3 672.0 L1512.1 667.5 L1515.0 662.8 L1517.8 658.1 L1520.6 653.4 L1523.5 648.5 L1526.3 643.6 L1529.1 638.6 L1532.0 633.5 L1534.8 628.4 L1537.6 623.1 L1540.5 617.9 L1543.3 612.5 L1546.1 607.1 L1549.0 601.7 L1551.8 596.1 L1554.6 590.6 L1557.5 584.9 L1560.3 579.2 L1563.1 573.4 L1565.9 567.6 L1568.8 561.8 L1571.6 555.8 L1574.4 549.9 L1577.3 543.9 L1580.1 537.8 L1582.9 531.7 L1585.8 525.5 L1588.6 519.3 L1591.4 513.1 L1594.3 506.8 L1597.1 500.4 L1599.9 494.1 L1602.8 487.7 L1605.6 481.2 L1608.4 474.7 L1611.3 468.2 L1614.1 461.7 L1616.9 455.1 L1619.8 448.5 L1622.6 441.9 L1625.4 435.3 L1628.3 428.6 L1631.1 422.0 L1633.9 415.4 L1636.8 408.7 L1639.6 402.1 L1642.4 395.5 L1645.2 388.9 L1648.1 382.4 L1650.9 375.9 L1653.7 369.4 L1656.6 362.9 L1659.4 356.5 L1662.2 350.2 L1665.1 343.9 L1667.9 337.7 L1670.7 331.5 L1673.6 325.4 L1676.4 319.4 L1679.2 313.5 L1682.1 307.7 L1684.9 301.9 L1687.7 296.2 L1690.6 290.7 L1693.4 285.2 L1696.2 279.9 L1699.1 274.7 L1701.9 269.6 L1704.7 264.6 L1707.6 259.8 L1710.4 255.1 L1713.2 250.5 L1716.1 246.1 L1718.9 241.8 L1721.7 237.7 L1724.5 233.8 L1727.4 230.0 L1730.2 226.4 L1733.0 222.9 L1735.9 219.6 L1738.7 216.4 L1741.6 213.4 L1744.4 210.5 L1747.3 207.8 L1750.1 205.2 L1753.0 202.8 L1755.9 200.4 L1758.8 198.2 L1761.7 196.1 L1764.6 194.2 L1767.5 192.3 L1770.5 190.5 L1773.4 188.9 L1776.4 187.4 L1779.4 185.9 L1782.4 184.5 L1785.4 183.3 L1788.4 182.1 L1791.5 181.0 L1794.6 180.0 L1797.7 179.0 L1800.8 178.2 L1803.9 177.4 L1807.1 176.6 L1810.3 175.9 L1813.5 175.3 L1816.7 174.7 L1820.0 174.2 L1823.3 173.7 L1826.6 173.3 L1830.0 172.9 L1833.4 172.5 L1836.8 172.2 L1840.3 171.8 L1843.7 171.5 L1847.3 171.3 L1850.8 171.0 L1854.4 170.7 L1858.1 170.5 L1861.8 170.3 L1865.5 170.1 L1869.3 169.8 L1873.2 169.7 L1877.1 169.5 L1881.1 169.3 L1885.2 169.1 L1889.3 169.0 L1893.6 168.8 L1897.9 168.7 L1902.3 168.5 L1906.8 168.4 L1911.5 168.3 L1916.2 168.1 L1921.0 168.0 L1926.0 167.9 L1931.1 167.8 L1936.3 167.7 L1941.6 167.6 L1947.0 167.5 L1952.6 167.4 L1958.4 167.3 L1964.2 167.2 L1970.3 167.1 L1976.5 167.0 L1982.8 166.9 L1989.3 166.7 L1996.0 166.6 L2002.8 166.5 L2009.9 166.4 L2017.1 166.3 L2024.5 166.2 L2032.1 166.0 L2039.8 165.9 L2047.8 165.7 L2056.0 165.6 L2064.4 165.4" stroke="#1f6fdb" stroke-width="5.0"/>
<polygon points="365.1,1338.9 385.1,1374.5 345.1,1374.5" fill="#1f6fdb"/>
<polygon points="478.4,1259.3 498.4,1294.9 458.4,1294.9" fill="#1f6fdb"/>
<polygon points="591.7,1209.7 611.7,1245.3 571.7,1245.3" fill="#1f6fdb"/>
<polygon points="705.0,1139.0 725.0,1174.6 685.0,1174.6" fill="#1f6fdb"/>
<polygon points="818.3,1077.7 838.3,1113.3 798.3,1113.3" fill="#1f6fdb"/>
<polygon points="931.6,1044.1 951.6,1079.7 911.6,1079.7" fill="#1f6fdb"/>
<polygon points="1044.8,991.6 1064.8,1027.2 1024.8,1027.2" fill="#1f6fdb"/>
<polygon points="1158.1,927.4 1178.1,963.0 1138.1,963.0" fill="#1f6fdb"/>
<polygon points="1271.4,864.6 1291.4,900.2 1251.4,900.2" fill="#1f6fdb"/>
<polygon points="1384.7,790.2 1404.7,825.8 1364.7,825.8" fill="#1f6fdb"/>
<polygon points="1498.0,690.2 1518.0,725.8 1478.0,725.8" fill="#1f6fdb"/>
<polygon points="1611.3,455.3 1631.3,490.9 1591.3,490.9" fill="#1f6fdb"/>
<polygon points="1724.5,167.8 1744.5,203.4 1704.5,203.4" fill="#1f6fdb"/>
<polygon points="1837.8,145.9 1857.8,181.5 1817.8,181.5" fill="#1f6fdb"/>
<polygon points="1951.1,145.9 1971.1,181.5 1931.1,181.5" fill="#1f6fdb"/>
<polygon points="2064.4,143.7 2084.4,179.3 2044.4,179.3" fill="#1f6fdb"/>
<path d="M251.8 1510.9 L260.2 1507.4 L268.4 1503.9 L276.4 1500.5 L284.2 1497.1 L291.8 1493.8 L299.2 1490.5 L306.4 1487.3 L313.4 1484.1 L320.3 1481.0 L326.9 1478.0 L333.4 1474.9 L339.8 1472.0 L346.0 1469.0 L352.0 1466.1 L357.9 1463.3 L363.6 1460.5 L369.2 1457.7 L374.7 1454.9 L380.0 1452.2 L385.2 1449.6 L390.3 1447.0 L395.2 1444.4 L400.1 1441.8 L404.8 1439.3 L409.4 1436.8 L413.9 1434.3 L418.3 1431.9 L422.7 1429.5 L426.9 1427.1 L431.1 1424.7 L435.1 1422.4 L439.1 1420.1 L443.1 1417.8 L446.9 1415.5 L450.7 1413.3 L454.5 1411.1 L458.2 1408.9 L461.8 1406.7 L465.4 1404.5 L469.0 1402.4 L472.5 1400.2 L476.0 1398.1 L479.4 1396.0 L482.9 1393.9 L486.3 1391.8 L489.6 1389.7 L492.9 1387.6 L496.2 1385.5 L499.5 1383.4 L502.8 1381.3 L506.0 1379.1 L509.2 1377.0 L512.3 1374.9 L515.5 1372.8 L518.6 1370.6 L521.7 1368.4 L524.8 1366.2 L527.8 1364.0 L530.9 1361.8 L533.9 1359.5 L536.9 1357.2 L539.9 1354.9 L542.8 1352.6 L545.8 1350.2 L548.7 1347.8 L551.6 1345.3 L554.6 1342.8 L557.5 1340.3 L560.4 1337.7 L563.2 1335.1 L566.1 1332.4 L569.0 1329.7 L571.8 1326.9 L574.7 1324.1 L577.5 1321.2 L580.4 1318.3 L583.2 1315.3 L586.0 1312.2 L588.9 1309.1 L591.7 1305.9 L594.5 1302.6 L597.4 1299.3 L600.2 1295.9 L603.0 1292.4 L605.9 1288.9 L608.7 1285.4 L611.5 1281.7 L614.4 1278.1 L617.2 1274.4 L620.0 1270.6 L622.9 1266.8 L625.7 1263.0 L628.5 1259.1 L631.4 1255.2 L634.2 1251.2 L637.0 1247.2 L639.8 1243.2 L642.7 1239.2 L645.5 1235.2 L648.3 1231.1 L651.2 1227.0 L654.0 1222.9 L656.8 1218.8 L659.7 1214.7 L662.5 1210.6 L665.3 1206.5 L668.2 1202.4 L671.0 1198.2 L673.8 1194.1 L676.7 1190.0 L679.5 1185.9 L682.3 1181.8 L685.2 1177.8 L688.0 1173.7 L690.8 1169.7 L693.7 1165.7 L696.5 1161.7 L699.3 1157.8 L702.2 1153.9 L705.0 1150.0 L707.8 1146.1 L710.7 1142.3 L713.5 1138.5 L716.3 1134.8 L719.1 1131.1 L722.0 1127.4 L724.8 1123.7 L727.6 1120.1 L730.5 1116.5 L733.3 1113.0 L736.1 1109.4 L739.0 1105.9 L741.8 1102.4 L744.6 1099.0 L747.5 1095.6 L750.3 1092.1 L753.1 1088.8 L756.0 1085.4 L758.8 1082.0 L761.6 1078.7 L764.5 1075.4 L767.3 1072.1 L770.1 1068.8 L773.0 1065.6 L775.8 1062.3 L778.6 1059.1 L781.5 1055.9 L784.3 1052.7 L787.1 1049.5 L790.0 1046.3 L792.8 1043.1 L795.6 1040.0 L798.4 1036.8 L801.3 1033.7 L804.1 1030.5 L806.9 1027.4 L809.8 1024.3 L812.6 1021.1 L815.4 1018.0 L818.3 1014.9 L821.1 1011.7 L823.9 1008.6 L826.8 1005.5 L829.6 1002.4 L832.4 999.2 L835.3 996.1 L838.1 993.0 L840.9 989.9 L843.8 986.8 L846.6 983.7 L849.4 980.6 L852.3 977.5 L855.1 974.4 L857.9 971.3 L860.8 968.2 L863.6 965.2 L866.4 962.1 L869.2 959.0 L872.1 956.0 L874.9 953.0 L877.7 949.9 L880.6 946.9 L883.4 943.9 L886.2 940.9 L889.1 937.9 L891.9 934.9 L894.7 932.0 L897.6 929.0 L900.4 926.1 L903.2 923.2 L906.1 920.3 L908.9 917.4 L911.7 914.5 L914.6 911.6 L917.4 908.7 L920.2 905.9 L923.1 903.1 L925.9 900.3 L928.7 897.5 L931.6 894.7 L934.4 892.0 L937.2 889.2 L940.1 886.5 L942.9 883.8 L945.7 881.1 L948.5 878.4 L951.4 875.8 L954.2 873.2 L957.0 870.5 L959.9 867.9 L962.7 865.3 L965.5 862.8 L968.4 860.2 L971.2 857.7 L974.0 855.2 L976.9 852.6 L979.7 850.2 L982.5 847.7 L985.4 845.2 L988.2 842.8 L991.0 840.3 L993.9 837.9 L996.7 835.5 L999.5 833.1 L1002.4 830.7 L1005.2 828.3 L1008.0 826.0 L1010.9 823.6 L1013.7 821.3 L1016.5 819.0 L1019.4 816.7 L1022.2 814.4 L1025.0 812.1 L1027.8 809.8 L1030.7 807.6 L1033.5 805.3 L1036.3 803.1 L1039.2 800.9 L1042.0 798.7 L1044.8 796.5 L1047.7 794.3 L1050.5 792.1 L1053.3 789.9 L1056.2 787.7 L1059.0 785.6 L1061.8 783.4 L1064.7 781.3 L1067.5 779.2 L1070.3 777.0 L1073.2 774.9 L1076.0 772.8 L1078.8 770.7 L1081.7 768.5 L1084.5 766.4 L1087.3 764.3 L1090.2 762.2 L1093.0 760.1 L1095.8 758.0 L1098.7 755.9 L1101.5 753.8 L1104.3 751.7 L1107.1 749.6 L1110.0 747.4 L1112.8 745.3 L1115.6 743.2 L1118.5 741.1 L1121.3 738.9 L1124.1 736.8 L1127.0 734.7 L1129.8 732.5 L1132.6 730.4 L1135.5 728.2 L1138.3 726.0 L1141.1 723.8 L1144.0 721.6 L1146.8 719.4 L1149.6 717.2 L1152.5 715.0 L1155.3 712.7 L1158.1 710.5 L1161.0 708.2 L1163.8 705.9 L1166.6 703.6 L1169.5 701.3 L1172.3 699.0 L1175.1 696.7 L1177.9 694.3 L1180.8 692.0 L1183.6 689.6 L1186.4 687.2 L1189.3 684.8 L1192.1 682.4 L1194.9 680.0 L1197.8 677.6 L1200.6 675.2 L1203.4 672.8 L1206.3 670.3 L1209.1 667.9 L1211.9 665.4 L1214.8 663.0 L1217.6 660.5 L1220.4 658.0 L1223.3 655.5 L1226.1 653.0 L1228.9 650.5 L1231.8 648.0 L1234.6 645.5 L1237.4 643.0 L1240.3 640.5 L1243.1 638.0 L1245.9 635.5 L1248.8 633.0 L1251.6 630.4 L1254.4 627.9 L1257.2 625.4 L1260.1 622.8 L1262.9 620.3 L1265.7 617.8 L1268.6 615.2 L1271.4 612.7 L1274.2 610.2 L1277.1 607.6 L1279.9 605.1 L1282.7 602.5 L1285.6 600.0 L1288.4 597.4 L1291.2 594.9 L1294.1 592.3 L1296.9 589.7 L1299.7 587.1 L1302.6 584.5 L1305.4 581.8 L1308.2 579.2 L1311.1 576.5 L1313.9 573.8 L1316.7 571.1 L1319.6 568.4 L1322.4 565.6 L1325.2 562.8 L1328.1 560.0 L1330.9 557.2 L1333.7 554.3 L1336.5 551.4 L1339.4 548.4 L1342.2 545.5 L1345.0 542.4 L1347.9 539.4 L1350.7 536.3 L1353.5 533.1 L1356.4 530.0 L1359.2 526.7 L1362.0 523.5 L1364.9 520.2 L1367.7 516.8 L1370.5 513.4 L1373.4 509.9 L1376.2 506.4 L1379.0 502.8 L1381.9 499.2 L1384.7 495.5 L1387.5 491.7 L1390.4 487.9 L1393.2 484.1 L1396.0 480.1 L1398.9 476.2 L1401.7 472.2 L1404.5 468.1 L1407.4 464.0 L1410.2 459.9 L1413.0 455.7 L1415.8 451.5 L1418.7 447.3 L1421.5 443.0 L1424.3 438.7 L1427.2 434.4 L1430.0 430.1 L1432.8 425.7 L1435.7 421.4 L1438.5 417.0 L1441.3 412.6 L1444.2 408.2 L1447.0 403.8 L1449.8 399.4 L1452.7 395.0 L1455.5 390.6 L1458.3 386.2 L1461.2 381.8 L1464.0 377.4 L1466.8 373.0 L1469.7 368.6 L1472.5 364.3 L1475.3 360.0 L1478.2 355.7 L1481.0 351.4 L1483.8 347.2 L1486.6 342.9 L1489.5 338.8 L1492.3 334.6 L1495.1 330.5 L1498.0 326.4 L1500.8 322.4 L1503.6 318.4 L1506.5 314.5 L1509.3 310.6 L1512.1 306.7 L1515.0 302.9 L1517.8 299.2 L1520.6 295.4 L1523.5 291.8 L1526.3 288.1 L1529.1 284.5 L1532.0 281.0 L1534.8 277.5 L1537.6 274.1 L1540.5 270.6 L1543.3 267.3 L1546.1 264.0 L1549.0 260.7 L1551.8 257.5 L1554.6 254.3 L1557.5 251.2 L1560.3 248.1 L1563.1 245.1 L1565.9 242.1 L1568.8 239.2 L1571.6 236.3 L1574.4 233.5 L1577.3 230.7 L1580.1 228.0 L1582.9 225.3 L1585.8 222.7 L1588.6 220.1 L1591.4 217.6 L1594.3 215.1 L1597.1 212.7 L1599.9 210.3 L1602.8 208.0 L1605.6 205.7 L1608.4 203.5 L1611.3 201.3 L1614.1 199.2 L1616.9 197.1 L1619.8 195.1 L1622.6 193.1 L1625.4 191.2 L1628.3 189.3 L1631.1 187.5 L1633.9 185.7 L1636.8 184.0 L1639.6 182.3 L1642.4 180.7 L1645.2 179.1 L1648.1 177.5 L1650.9 176.0 L1653.7 174.5 L1656.6 173.0 L1659.4 171.6 L1662.2 170.2 L1665.1 168.8 L1667.9 167.5 L1670.7 166.2 L1673.6 165.0 L1676.4 163.7 L1679.2 162.5 L1682.1 161.4 L1684.9 160.2 L1687.7 159.1 L1690.6 158.0 L1693.4 156.9 L1696.2 155.9 L1699.1 154.8 L1701.9 153.8 L1704.7 152.8 L1707.6 151.9 L1710.4 150.9 L1713.2 150.0 L1716.1 149.0 L1718.9 148.1 L1721.7 147.2 L1724.5 146.3 L1727.4 145.5 L1730.2 144.6 L1733.0 143.7 L1735.9 142.9 L1738.7 142.0 L1741.6 141.2 L1744.4 140.4 L1747.3 139.6 L1750.1 138.8 L1753.0 138.0 L1755.9 137.2 L1758.8 136.5 L1761.7 135.7 L1764.6 135.0 L1767.5 134.3 L1770.5 133.6 L1773.4 132.9 L1776.4 132.2 L1779.4 131.5 L1782.4 130.8 L1785.4 130.2 L1788.4 129.5 L1791.5 128.9 L1794.6 128.3 L1797.7 127.6 L1800.8 127.0 L1803.9 126.5 L1807.1 125.9 L1810.3 125.3 L1813.5 124.8 L1816.7 124.2 L1820.0 123.7 L1823.3 123.2 L1826.6 122.7 L1830.0 122.2 L1833.4 121.7 L1836.8 121.3 L1840.3 120.8 L1843.7 120.4 L1847.3 119.9 L1850.8 119.5 L1854.4 119.1 L1858.1 118.7 L1861.8 118.4 L1865.5 118.0 L1869.3 117.6 L1873.2 117.3 L1877.1 117.0 L1881.1 116.6 L1885.2 116.3 L1889.3 116.0 L1893.6 115.7 L1897.9 115.4 L1902.3 115.1 L1906.8 114.8 L1911.5 114.5 L1916.2 114.2 L1921.0 114.0 L1926.0 113.7 L1931.1 113.4 L1936.3 113.1 L1941.6 112.9 L1947.0 112.6 L1952.6 112.3 L1958.4 112.1 L1964.2 111.8 L1970.3 111.5 L1976.5 111.3 L1982.8 111.0 L1989.3 110.7 L1996.0 110.5 L2002.8 110.2 L2009.9 109.9 L2017.1 109.6 L2024.5 109.3 L2032.1 109.0 L2039.8 108.7 L2047.8 108.4 L2056.0 108.1 L2064.4 107.8" stroke="#e6c071" stroke-width="5.0"/>
<polygon points="251.8,1492.3 269.9,1524.2 233.8,1524.2" fill="#fff" stroke="#e6c071" stroke-width="1.1" stroke-linejoin="miter"/>
<polygon points="365.1,1444.9 383.1,1476.8 347.1,1476.8" fill="#fff" stroke="#e6c071" stroke-width="1.1" stroke-linejoin="miter"/>
<polygon points="478.4,1379.9 496.4,1411.9 460.4,1411.9" fill="#fff" stroke="#e6c071" stroke-width="1.1" stroke-linejoin="miter"/>
<polygon points="591.7,1305.5 609.7,1337.4 573.7,1337.4" fill="#fff" stroke="#e6c071" stroke-width="1.1" stroke-linejoin="miter"/>
<polygon points="705.0,1121.6 723.0,1153.6 687.0,1153.6" fill="#fff" stroke="#e6c071" stroke-width="1.1" stroke-linejoin="miter"/>
<polygon points="818.3,996.1 836.3,1028.1 800.3,1028.1" fill="#fff" stroke="#e6c071" stroke-width="1.1" stroke-linejoin="miter"/>
<polygon points="931.6,871.4 949.6,903.3 913.6,903.3" fill="#fff" stroke="#e6c071" stroke-width="1.1" stroke-linejoin="miter"/>
<polygon points="1044.8,775.0 1062.8,807.0 1026.8,807.0" fill="#fff" stroke="#e6c071" stroke-width="1.1" stroke-linejoin="miter"/>
<polygon points="1158.1,695.5 1176.1,727.5 1140.1,727.5" fill="#fff" stroke="#e6c071" stroke-width="1.1" stroke-linejoin="miter"/>
<polygon points="1271.4,594.1 1289.4,626.0 1253.4,626.0" fill="#fff" stroke="#e6c071" stroke-width="1.1" stroke-linejoin="miter"/>
<polygon points="1384.7,492.7 1402.7,524.6 1366.7,524.6" fill="#fff" stroke="#e6c071" stroke-width="1.1" stroke-linejoin="miter"/>
<polygon points="1498.0,296.4 1516.0,328.3 1480.0,328.3" fill="#fff" stroke="#e6c071" stroke-width="1.1" stroke-linejoin="miter"/>
<polygon points="1611.3,168.7 1629.3,200.6 1593.3,200.6" fill="#fff" stroke="#e6c071" stroke-width="1.1" stroke-linejoin="miter"/>
<polygon points="1724.5,124.9 1742.5,156.9 1706.5,156.9" fill="#fff" stroke="#e6c071" stroke-width="1.1" stroke-linejoin="miter"/>
<polygon points="1837.8,97.9 1855.8,129.9 1819.8,129.9" fill="#fff" stroke="#e6c071" stroke-width="1.1" stroke-linejoin="miter"/>
<polygon points="1951.1,93.5 1969.1,125.5 1933.1,125.5" fill="#fff" stroke="#e6c071" stroke-width="1.1" stroke-linejoin="miter"/>
<polygon points="2064.4,89.2 2082.4,121.1 2046.4,121.1" fill="#fff" stroke="#e6c071" stroke-width="1.1" stroke-linejoin="miter"/>
<path d="M251.8 57.4 L260.2 80.5 L268.4 102.9 L276.4 124.6 L284.2 145.6 L291.8 165.9 L299.2 185.6 L306.4 204.7 L313.4 223.2 L320.3 241.1 L326.9 258.5 L333.4 275.2 L339.8 291.4 L346.0 307.1 L352.0 322.3 L357.9 337.0 L363.6 351.2 L369.2 364.9 L374.7 378.2 L380.0 391.0 L385.2 403.4 L390.3 415.4 L395.2 427.0 L400.1 438.3 L404.8 449.2 L409.4 459.7 L413.9 469.9 L418.3 479.8 L422.7 489.4 L426.9 498.8 L431.1 507.8 L435.1 516.6 L439.1 525.2 L443.1 533.5 L446.9 541.7 L450.7 549.6 L454.5 557.4 L458.2 565.0 L461.8 572.5 L465.4 579.9 L469.0 587.1 L472.5 594.2 L476.0 601.3 L479.4 608.3 L482.9 615.1 L486.3 621.9 L489.6 628.6 L492.9 635.2 L496.2 641.7 L499.5 648.2 L502.8 654.6 L506.0 660.9 L509.2 667.1 L512.3 673.3 L515.5 679.3 L518.6 685.4 L521.7 691.3 L524.8 697.2 L527.8 703.0 L530.9 708.8 L533.9 714.5 L536.9 720.2 L539.9 725.8 L542.8 731.4 L545.8 736.9 L548.7 742.4 L551.6 747.8 L554.6 753.2 L557.5 758.5 L560.4 763.8 L563.2 769.1 L566.1 774.3 L569.0 779.6 L571.8 784.7 L574.7 789.9 L577.5 795.0 L580.4 800.1 L583.2 805.2 L586.0 810.3 L588.9 815.3 L591.7 820.4 L594.5 825.4 L597.4 830.4 L600.2 835.4 L603.0 840.4 L605.9 845.4 L608.7 850.4 L611.5 855.3 L614.4 860.2 L617.2 865.2 L620.0 870.1 L622.9 875.0 L625.7 879.9 L628.5 884.7 L631.4 889.6 L634.2 894.4 L637.0 899.2 L639.8 904.0 L642.7 908.8 L645.5 913.6 L648.3 918.3 L651.2 923.1 L654.0 927.8 L656.8 932.5 L659.7 937.2 L662.5 941.9 L665.3 946.5 L668.2 951.2 L671.0 955.8 L673.8 960.4 L676.7 965.0 L679.5 969.5 L682.3 974.1 L685.2 978.6 L688.0 983.1 L690.8 987.6 L693.7 992.0 L696.5 996.5 L699.3 1000.9 L702.2 1005.3 L705.0 1009.7 L707.8 1014.1 L710.7 1018.4 L713.5 1022.7 L716.3 1027.0 L719.1 1031.3 L722.0 1035.5 L724.8 1039.7 L727.6 1043.9 L730.5 1048.0 L733.3 1052.2 L736.1 1056.2 L739.0 1060.3 L741.8 1064.3 L744.6 1068.3 L747.5 1072.2 L750.3 1076.1 L753.1 1080.0 L756.0 1083.8 L758.8 1087.5 L761.6 1091.3 L764.5 1094.9 L767.3 1098.6 L770.1 1102.1 L773.0 1105.7 L775.8 1109.2 L778.6 1112.6 L781.5 1116.0 L784.3 1119.3 L787.1 1122.5 L790.0 1125.7 L792.8 1128.9 L795.6 1132.0 L798.4 1135.0 L801.3 1137.9 L804.1 1140.8 L806.9 1143.7 L809.8 1146.4 L812.6 1149.1 L815.4 1151.8 L818.3 1154.3 L821.1 1156.8 L823.9 1159.2 L826.8 1161.6 L829.6 1163.9 L832.4 1166.1 L835.3 1168.2 L838.1 1170.3 L840.9 1172.3 L843.8 1174.3 L846.6 1176.2 L849.4 1178.0 L852.3 1179.8 L855.1 1181.6 L857.9 1183.3 L860.8 1184.9 L863.6 1186.5 L866.4 1188.0 L869.2 1189.5 L872.1 1190.9 L874.9 1192.3 L877.7 1193.6 L880.6 1194.9 L883.4 1196.2 L886.2 1197.4 L889.1 1198.6 L891.9 1199.7 L894.7 1200.8 L897.6 1201.9 L900.4 1202.9 L903.2 1203.9 L906.1 1204.9 L908.9 1205.8 L911.7 1206.7 L914.6 1207.6 L917.4 1208.5 L920.2 1209.3 L923.1 1210.1 L925.9 1210.9 L928.7 1211.7 L931.6 1212.4 L934.4 1213.1 L937.2 1213.8 L940.1 1214.5 L942.9 1215.2 L945.7 1215.9 L948.5 1216.5 L951.4 1217.2 L954.2 1217.8 L957.0 1218.4 L959.9 1218.9 L962.7 1219.5 L965.5 1220.1 L968.4 1220.6 L971.2 1221.1 L974.0 1221.6 L976.9 1222.1 L979.7 1222.6 L982.5 1223.1 L985.4 1223.5 L988.2 1224.0 L991.0 1224.4 L993.9 1224.9 L996.7 1225.3 L999.5 1225.7 L1002.4 1226.0 L1005.2 1226.4 L1008.0 1226.8 L1010.9 1227.1 L1013.7 1227.5 L1016.5 1227.8 L1019.4 1228.2 L1022.2 1228.5 L1025.0 1228.8 L1027.8 1229.1 L1030.7 1229.4 L1033.5 1229.7 L1036.3 1229.9 L1039.2 1230.2 L1042.0 1230.5 L1044.8 1230.7 L1047.7 1231.0 L1050.5 1231.2 L1053.3 1231.5 L1056.2 1231.7 L1059.0 1231.9 L1061.8 1232.2 L1064.7 1232.4 L1067.5 1232.6 L1070.3 1232.8 L1073.2 1233.0 L1076.0 1233.2 L1078.8 1233.4 L1081.7 1233.6 L1084.5 1233.8 L1087.3 1234.0 L1090.2 1234.2 L1093.0 1234.4 L1095.8 1234.6 L1098.7 1234.8 L1101.5 1235.0 L1104.3 1235.2 L1107.1 1235.5 L1110.0 1235.7 L1112.8 1235.9 L1115.6 1236.1 L1118.5 1236.3 L1121.3 1236.5 L1124.1 1236.8 L1127.0 1237.0 L1129.8 1237.2 L1132.6 1237.5 L1135.5 1237.7 L1138.3 1238.0 L1141.1 1238.2 L1144.0 1238.5 L1146.8 1238.8 L1149.6 1239.0 L1152.5 1239.3 L1155.3 1239.6 L1158.1 1239.9 L1161.0 1240.2 L1163.8 1240.6 L1166.6 1240.9 L1169.5 1241.3 L1172.3 1241.6 L1175.1 1242.0 L1177.9 1242.4 L1180.8 1242.8 L1183.6 1243.2 L1186.4 1243.6 L1189.3 1244.0 L1192.1 1244.5 L1194.9 1245.0 L1197.8 1245.5 L1200.6 1246.0 L1203.4 1246.5 L1206.3 1247.0 L1209.1 1247.6 L1211.9 1248.1 L1214.8 1248.7 L1217.6 1249.4 L1220.4 1250.0 L1223.3 1250.6 L1226.1 1251.3 L1228.9 1252.0 L1231.8 1252.7 L1234.6 1253.5 L1237.4 1254.2 L1240.3 1255.0 L1243.1 1255.8 L1245.9 1256.7 L1248.8 1257.6 L1251.6 1258.4 L1254.4 1259.4 L1257.2 1260.3 L1260.1 1261.3 L1262.9 1262.3 L1265.7 1263.3 L1268.6 1264.4 L1271.4 1265.4 L1274.2 1266.6 L1277.1 1267.7 L1279.9 1268.9 L1282.7 1270.1 L1285.6 1271.3 L1288.4 1272.6 L1291.2 1273.8 L1294.1 1275.1 L1296.9 1276.4 L1299.7 1277.8 L1302.6 1279.1 L1305.4 1280.5 L1308.2 1281.8 L1311.1 1283.2 L1313.9 1284.6 L1316.7 1286.0 L1319.6 1287.5 L1322.4 1288.9 L1325.2 1290.3 L1328.1 1291.8 L1330.9 1293.2 L1333.7 1294.6 L1336.5 1296.1 L1339.4 1297.5 L1342.2 1299.0 L1345.0 1300.4 L1347.9 1301.9 L1350.7 1303.3 L1353.5 1304.7 L1356.4 1306.2 L1359.2 1307.6 L1362.0 1309.0 L1364.9 1310.4 L1367.7 1311.7 L1370.5 1313.1 L1373.4 1314.5 L1376.2 1315.8 L1379.0 1317.1 L1381.9 1318.4 L1384.7 1319.7 L1387.5 1320.9 L1390.4 1322.1 L1393.2 1323.3 L1396.0 1324.5 L1398.9 1325.7 L1401.7 1326.8 L1404.5 1328.0 L1407.4 1329.1 L1410.2 1330.1 L1413.0 1331.2 L1415.8 1332.2 L1418.7 1333.3 L1421.5 1334.3 L1424.3 1335.2 L1427.2 1336.2 L1430.0 1337.2 L1432.8 1338.1 L1435.7 1339.0 L1438.5 1339.9 L1441.3 1340.8 L1444.2 1341.6 L1447.0 1342.5 L1449.8 1343.3 L1452.7 1344.1 L1455.5 1344.9 L1458.3 1345.6 L1461.2 1346.4 L1464.0 1347.1 L1466.8 1347.9 L1469.7 1348.6 L1472.5 1349.3 L1475.3 1350.0 L1478.2 1350.6 L1481.0 1351.3 L1483.8 1351.9 L1486.6 1352.5 L1489.5 1353.1 L1492.3 1353.7 L1495.1 1354.3 L1498.0 1354.9 L1500.8 1355.5 L1503.6 1356.0 L1506.5 1356.5 L1509.3 1357.1 L1512.1 1357.6 L1515.0 1358.1 L1517.8 1358.6 L1520.6 1359.0 L1523.5 1359.5 L1526.3 1360.0 L1529.1 1360.4 L1532.0 1360.9 L1534.8 1361.3 L1537.6 1361.7 L1540.5 1362.1 L1543.3 1362.5 L1546.1 1362.9 L1549.0 1363.3 L1551.8 1363.7 L1554.6 1364.0 L1557.5 1364.4 L1560.3 1364.7 L1563.1 1365.1 L1565.9 1365.4 L1568.8 1365.8 L1571.6 1366.1 L1574.4 1366.4 L1577.3 1366.7 L1580.1 1367.0 L1582.9 1367.4 L1585.8 1367.7 L1588.6 1367.9 L1591.4 1368.2 L1594.3 1368.5 L1597.1 1368.8 L1599.9 1369.1 L1602.8 1369.4 L1605.6 1369.6 L1608.4 1369.9 L1611.3 1370.2 L1614.1 1370.4 L1616.9 1370.7 L1619.8 1371.0 L1622.6 1371.2 L1625.4 1371.5 L1628.3 1371.7 L1631.1 1372.0 L1633.9 1372.2 L1636.8 1372.5 L1639.6 1372.7 L1642.4 1372.9 L1645.2 1373.2 L1648.1 1373.4 L1650.9 1373.6 L1653.7 1373.9 L1656.6 1374.1 L1659.4 1374.3 L1662.2 1374.5 L1665.1 1374.7 L1667.9 1374.9 L1670.7 1375.1 L1673.6 1375.3 L1676.4 1375.5 L1679.2 1375.7 L1682.1 1375.9 L1684.9 1376.1 L1687.7 1376.3 L1690.6 1376.5 L1693.4 1376.6 L1696.2 1376.8 L1699.1 1377.0 L1701.9 1377.1 L1704.7 1377.3 L1707.6 1377.4 L1710.4 1377.6 L1713.2 1377.7 L1716.1 1377.8 L1718.9 1378.0 L1721.7 1378.1 L1724.5 1378.2 L1727.4 1378.3 L1730.2 1378.5 L1733.0 1378.6 L1735.9 1378.7 L1738.7 1378.8 L1741.6 1378.9 L1744.4 1378.9 L1747.3 1379.0 L1750.1 1379.1 L1753.0 1379.2 L1755.9 1379.3 L1758.8 1379.4 L1761.7 1379.4 L1764.6 1379.5 L1767.5 1379.6 L1770.5 1379.7 L1773.4 1379.7 L1776.4 1379.8 L1779.4 1379.9 L1782.4 1379.9 L1785.4 1380.0 L1788.4 1380.1 L1791.5 1380.2 L1794.6 1380.2 L1797.7 1380.3 L1800.8 1380.4 L1803.9 1380.5 L1807.1 1380.5 L1810.3 1380.6 L1813.5 1380.7 L1816.7 1380.8 L1820.0 1380.9 L1823.3 1381.0 L1826.6 1381.1 L1830.0 1381.2 L1833.4 1381.3 L1836.8 1381.4 L1840.3 1381.5 L1843.7 1381.6 L1847.3 1381.7 L1850.8 1381.9 L1854.4 1382.0 L1858.1 1382.1 L1861.8 1382.3 L1865.5 1382.4 L1869.3 1382.6 L1873.2 1382.8 L1877.1 1382.9 L1881.1 1383.1 L1885.2 1383.3 L1889.3 1383.5 L1893.6 1383.7 L1897.9 1383.8 L1902.3 1384.1 L1906.8 1384.3 L1911.5 1384.5 L1916.2 1384.7 L1921.0 1384.9 L1926.0 1385.1 L1931.1 1385.4 L1936.3 1385.6 L1941.6 1385.9 L1947.0 1386.1 L1952.6 1386.4 L1958.4 1386.6 L1964.2 1386.9 L1970.3 1387.2 L1976.5 1387.4 L1982.8 1387.7 L1989.3 1388.0 L1996.0 1388.3 L2002.8 1388.6 L2009.9 1388.9 L2017.1 1389.2 L2024.5 1389.6 L2032.1 1389.9 L2039.8 1390.2 L2047.8 1390.5 L2056.0 1390.9 L2064.4 1391.2" stroke="#10cc10" stroke-width="5.0"/>
<circle cx="251.8" cy="57.4" r="16.6" fill="#00dd00"/>
<circle cx="365.1" cy="369.7" r="16.6" fill="#00dd00"/>
<circle cx="478.4" cy="612.7" r="16.6" fill="#00dd00"/>
<circle cx="591.7" cy="823.6" r="16.6" fill="#00dd00"/>
<circle cx="705.0" cy="1015.3" r="16.6" fill="#00dd00"/>
<circle cx="818.3" cy="1173.4" r="16.6" fill="#00dd00"/>
<circle cx="931.6" cy="1217.1" r="16.6" fill="#00dd00"/>
<circle cx="1044.8" cy="1232.5" r="16.6" fill="#00dd00"/>
<circle cx="1158.1" cy="1237.4" r="16.6" fill="#00dd00"/>
<circle cx="1271.4" cy="1257.4" r="16.6" fill="#00dd00"/>
<circle cx="1384.7" cy="1325.6" r="16.6" fill="#00dd00"/>
<circle cx="1498.0" cy="1358.3" r="16.6" fill="#00dd00"/>
<circle cx="1611.3" cy="1370.8" r="16.6" fill="#00dd00"/>
<circle cx="1724.5" cy="1379.6" r="16.6" fill="#00dd00"/>
<circle cx="1837.8" cy="1380.3" r="16.6" fill="#00dd00"/>
<circle cx="1951.1" cy="1386.6" r="16.6" fill="#00dd00"/>
<circle cx="2064.4" cy="1391.2" r="16.6" fill="#00dd00"/>
<path d="M251.8 70.6 L260.2 90.6 L268.4 110.0 L276.4 128.8 L284.2 146.9 L291.8 164.5 L299.2 181.5 L306.4 198.0 L313.4 213.9 L320.3 229.2 L326.9 244.0 L333.4 258.4 L339.8 272.2 L346.0 285.6 L352.0 298.5 L357.9 311.0 L363.6 323.0 L369.2 334.6 L374.7 345.9 L380.0 356.7 L385.2 367.2 L390.3 377.3 L395.2 387.1 L400.1 396.5 L404.8 405.7 L409.4 414.5 L413.9 423.1 L418.3 431.3 L422.7 439.4 L426.9 447.2 L431.1 454.8 L435.1 462.1 L439.1 469.3 L443.1 476.3 L446.9 483.2 L450.7 489.9 L454.5 496.4 L458.2 502.8 L461.8 509.2 L465.4 515.4 L469.0 521.6 L472.5 527.7 L476.0 533.7 L479.4 539.7 L482.9 545.7 L486.3 551.6 L489.6 557.4 L492.9 563.2 L496.2 569.0 L499.5 574.7 L502.8 580.4 L506.0 586.1 L509.2 591.7 L512.3 597.3 L515.5 602.8 L518.6 608.4 L521.7 613.9 L524.8 619.4 L527.8 624.9 L530.9 630.4 L533.9 635.8 L536.9 641.3 L539.9 646.8 L542.8 652.2 L545.8 657.7 L548.7 663.1 L551.6 668.6 L554.6 674.1 L557.5 679.5 L560.4 685.0 L563.2 690.5 L566.1 696.1 L569.0 701.6 L571.8 707.2 L574.7 712.8 L577.5 718.4 L580.4 724.1 L583.2 729.8 L586.0 735.5 L588.9 741.3 L591.7 747.1 L594.5 753.0 L597.4 758.9 L600.2 764.8 L603.0 770.8 L605.9 776.8 L608.7 782.9 L611.5 788.9 L614.4 795.1 L617.2 801.2 L620.0 807.4 L622.9 813.6 L625.7 819.8 L628.5 826.0 L631.4 832.3 L634.2 838.6 L637.0 844.9 L639.8 851.2 L642.7 857.5 L645.5 863.8 L648.3 870.1 L651.2 876.5 L654.0 882.8 L656.8 889.1 L659.7 895.5 L662.5 901.8 L665.3 908.1 L668.2 914.5 L671.0 920.8 L673.8 927.1 L676.7 933.4 L679.5 939.6 L682.3 945.9 L685.2 952.1 L688.0 958.3 L690.8 964.5 L693.7 970.7 L696.5 976.8 L699.3 982.9 L702.2 989.0 L705.0 995.0 L707.8 1001.0 L710.7 1007.0 L713.5 1012.9 L716.3 1018.8 L719.1 1024.6 L722.0 1030.4 L724.8 1036.2 L727.6 1041.9 L730.5 1047.5 L733.3 1053.1 L736.1 1058.7 L739.0 1064.2 L741.8 1069.6 L744.6 1075.0 L747.5 1080.3 L750.3 1085.5 L753.1 1090.7 L756.0 1095.8 L758.8 1100.9 L761.6 1105.9 L764.5 1110.8 L767.3 1115.6 L770.1 1120.3 L773.0 1125.0 L775.8 1129.6 L778.6 1134.1 L781.5 1138.5 L784.3 1142.9 L787.1 1147.1 L790.0 1151.3 L792.8 1155.4 L795.6 1159.4 L798.4 1163.3 L801.3 1167.0 L804.1 1170.7 L806.9 1174.3 L809.8 1177.8 L812.6 1181.2 L815.4 1184.5 L818.3 1187.7 L821.1 1190.7 L823.9 1193.7 L826.8 1196.5 L829.6 1199.3 L832.4 1201.9 L835.3 1204.5 L838.1 1206.9 L840.9 1209.3 L843.8 1211.6 L846.6 1213.7 L849.4 1215.8 L852.3 1217.8 L855.1 1219.8 L857.9 1221.6 L860.8 1223.4 L863.6 1225.1 L866.4 1226.7 L869.2 1228.2 L872.1 1229.7 L874.9 1231.1 L877.7 1232.4 L880.6 1233.7 L883.4 1234.9 L886.2 1236.0 L889.1 1237.1 L891.9 1238.2 L894.7 1239.1 L897.6 1240.1 L900.4 1241.0 L903.2 1241.8 L906.1 1242.6 L908.9 1243.3 L911.7 1244.0 L914.6 1244.7 L917.4 1245.4 L920.2 1246.0 L923.1 1246.5 L925.9 1247.1 L928.7 1247.6 L931.6 1248.1 L934.4 1248.6 L937.2 1249.0 L940.1 1249.5 L942.9 1249.9 L945.7 1250.3 L948.5 1250.6 L951.4 1251.0 L954.2 1251.3 L957.0 1251.6 L959.9 1251.9 L962.7 1252.2 L965.5 1252.4 L968.4 1252.7 L971.2 1252.9 L974.0 1253.1 L976.9 1253.3 L979.7 1253.5 L982.5 1253.6 L985.4 1253.8 L988.2 1253.9 L991.0 1254.0 L993.9 1254.2 L996.7 1254.3 L999.5 1254.3 L1002.4 1254.4 L1005.2 1254.5 L1008.0 1254.5 L1010.9 1254.6 L1013.7 1254.6 L1016.5 1254.7 L1019.4 1254.7 L1022.2 1254.7 L1025.0 1254.7 L1027.8 1254.7 L1030.7 1254.7 L1033.5 1254.7 L1036.3 1254.6 L1039.2 1254.6 L1042.0 1254.6 L1044.8 1254.5 L1047.7 1254.5 L1050.5 1254.5 L1053.3 1254.4 L1056.2 1254.4 L1059.0 1254.3 L1061.8 1254.3 L1064.7 1254.2 L1067.5 1254.2 L1070.3 1254.1 L1073.2 1254.0 L1076.0 1254.0 L1078.8 1253.9 L1081.7 1253.9 L1084.5 1253.8 L1087.3 1253.7 L1090.2 1253.7 L1093.0 1253.6 L1095.8 1253.6 L1098.7 1253.5 L1101.5 1253.5 L1104.3 1253.4 L1107.1 1253.3 L1110.0 1253.3 L1112.8 1253.3 L1115.6 1253.2 L1118.5 1253.2 L1121.3 1253.1 L1124.1 1253.1 L1127.0 1253.1 L1129.8 1253.0 L1132.6 1253.0 L1135.5 1253.0 L1138.3 1253.0 L1141.1 1253.0 L1144.0 1253.0 L1146.8 1253.0 L1149.6 1253.0 L1152.5 1253.0 L1155.3 1253.1 L1158.1 1253.1 L1161.0 1253.1 L1163.8 1253.2 L1166.6 1253.2 L1169.5 1253.3 L1172.3 1253.4 L1175.1 1253.5 L1177.9 1253.6 L1180.8 1253.7 L1183.6 1253.8 L1186.4 1254.0 L1189.3 1254.2 L1192.1 1254.3 L1194.9 1254.6 L1197.8 1254.8 L1200.6 1255.0 L1203.4 1255.3 L1206.3 1255.6 L1209.1 1255.9 L1211.9 1256.3 L1214.8 1256.6 L1217.6 1257.0 L1220.4 1257.5 L1223.3 1257.9 L1226.1 1258.4 L1228.9 1259.0 L1231.8 1259.5 L1234.6 1260.1 L1237.4 1260.7 L1240.3 1261.4 L1243.1 1262.1 L1245.9 1262.8 L1248.8 1263.6 L1251.6 1264.4 L1254.4 1265.3 L1257.2 1266.2 L1260.1 1267.1 L1262.9 1268.1 L1265.7 1269.1 L1268.6 1270.2 L1271.4 1271.3 L1274.2 1272.5 L1277.1 1273.7 L1279.9 1275.0 L1282.7 1276.3 L1285.6 1277.6 L1288.4 1279.0 L1291.2 1280.4 L1294.1 1281.9 L1296.9 1283.3 L1299.7 1284.8 L1302.6 1286.4 L1305.4 1287.9 L1308.2 1289.5 L1311.1 1291.0 L1313.9 1292.6 L1316.7 1294.2 L1319.6 1295.9 L1322.4 1297.5 L1325.2 1299.1 L1328.1 1300.7 L1330.9 1302.4 L1333.7 1304.0 L1336.5 1305.6 L1339.4 1307.2 L1342.2 1308.8 L1345.0 1310.4 L1347.9 1312.0 L1350.7 1313.6 L1353.5 1315.1 L1356.4 1316.6 L1359.2 1318.1 L1362.0 1319.6 L1364.9 1321.0 L1367.7 1322.4 L1370.5 1323.8 L1373.4 1325.1 L1376.2 1326.4 L1379.0 1327.7 L1381.9 1328.9 L1384.7 1330.0 L1387.5 1331.2 L1390.4 1332.2 L1393.2 1333.2 L1396.0 1334.2 L1398.9 1335.1 L1401.7 1336.0 L1404.5 1336.9 L1407.4 1337.7 L1410.2 1338.4 L1413.0 1339.1 L1415.8 1339.8 L1418.7 1340.4 L1421.5 1341.0 L1424.3 1341.6 L1427.2 1342.1 L1430.0 1342.6 L1432.8 1343.1 L1435.7 1343.5 L1438.5 1343.9 L1441.3 1344.3 L1444.2 1344.6 L1447.0 1344.9 L1449.8 1345.2 L1452.7 1345.4 L1455.5 1345.6 L1458.3 1345.8 L1461.2 1346.0 L1464.0 1346.1 L1466.8 1346.3 L1469.7 1346.3 L1472.5 1346.4 L1475.3 1346.5 L1478.2 1346.5 L1481.0 1346.5 L1483.8 1346.5 L1486.6 1346.5 L1489.5 1346.5 L1492.3 1346.4 L1495.1 1346.4 L1498.0 1346.3 L1500.8 1346.2 L1503.6 1346.1 L1506.5 1346.0 L1509.3 1345.9 L1512.1 1345.8 L1515.0 1345.6 L1517.8 1345.5 L1520.6 1345.4 L1523.5 1345.2 L1526.3 1345.0 L1529.1 1344.8 L1532.0 1344.7 L1534.8 1344.5 L1537.6 1344.3 L1540.5 1344.1 L1543.3 1343.9 L1546.1 1343.7 L1549.0 1343.5 L1551.8 1343.3 L1554.6 1343.1 L1557.5 1342.8 L1560.3 1342.6 L1563.1 1342.4 L1565.9 1342.2 L1568.8 1342.0 L1571.6 1341.8 L1574.4 1341.6 L1577.3 1341.3 L1580.1 1341.1 L1582.9 1340.9 L1585.8 1340.7 L1588.6 1340.5 L1591.4 1340.3 L1594.3 1340.2 L1597.1 1340.0 L1599.9 1339.8 L1602.8 1339.6 L1605.6 1339.5 L1608.4 1339.3 L1611.3 1339.2 L1614.1 1339.1 L1616.9 1338.9 L1619.8 1338.8 L1622.6 1338.7 L1625.4 1338.6 L1628.3 1338.5 L1631.1 1338.4 L1633.9 1338.4 L1636.8 1338.3 L1639.6 1338.2 L1642.4 1338.2 L1645.2 1338.1 L1648.1 1338.1 L1650.9 1338.1 L1653.7 1338.0 L1656.6 1338.0 L1659.4 1338.0 L1662.2 1338.0 L1665.1 1338.0 L1667.9 1338.0 L1670.7 1338.0 L1673.6 1338.1 L1676.4 1338.1 L1679.2 1338.1 L1682.1 1338.1 L1684.9 1338.2 L1687.7 1338.2 L1690.6 1338.3 L1693.4 1338.4 L1696.2 1338.4 L1699.1 1338.5 L1701.9 1338.6 L1704.7 1338.6 L1707.6 1338.7 L1710.4 1338.8 L1713.2 1338.9 L1716.1 1339.0 L1718.9 1339.1 L1721.7 1339.2 L1724.5 1339.3 L1727.4 1339.4 L1730.2 1339.5 L1733.0 1339.6 L1735.9 1339.7 L1738.7 1339.9 L1741.6 1340.0 L1744.4 1340.1 L1747.3 1340.2 L1750.1 1340.4 L1753.0 1340.5 L1755.9 1340.6 L1758.8 1340.8 L1761.7 1340.9 L1764.6 1341.1 L1767.5 1341.2 L1770.5 1341.4 L1773.4 1341.5 L1776.4 1341.7 L1779.4 1341.8 L1782.4 1342.0 L1785.4 1342.2 L1788.4 1342.3 L1791.5 1342.5 L1794.6 1342.7 L1797.7 1342.8 L1800.8 1343.0 L1803.9 1343.2 L1807.1 1343.4 L1810.3 1343.6 L1813.5 1343.7 L1816.7 1343.9 L1820.0 1344.1 L1823.3 1344.3 L1826.6 1344.5 L1830.0 1344.7 L1833.4 1344.9 L1836.8 1345.1 L1840.3 1345.3 L1843.7 1345.5 L1847.3 1345.7 L1850.8 1345.9 L1854.4 1346.1 L1858.1 1346.3 L1861.8 1346.5 L1865.5 1346.7 L1869.3 1346.9 L1873.2 1347.1 L1877.1 1347.4 L1881.1 1347.6 L1885.2 1347.8 L1889.3 1348.0 L1893.6 1348.2 L1897.9 1348.4 L1902.3 1348.6 L1906.8 1348.8 L1911.5 1349.0 L1916.2 1349.2 L1921.0 1349.4 L1926.0 1349.7 L1931.1 1349.9 L1936.3 1350.1 L1941.6 1350.3 L1947.0 1350.5 L1952.6 1350.6 L1958.4 1350.8 L1964.2 1351.0 L1970.3 1351.2 L1976.5 1351.4 L1982.8 1351.6 L1989.3 1351.8 L1996.0 1351.9 L2002.8 1352.1 L2009.9 1352.3 L2017.1 1352.4 L2024.5 1352.6 L2032.1 1352.7 L2039.8 1352.9 L2047.8 1353.0 L2056.0 1353.2 L2064.4 1353.3" stroke="#ee0000" stroke-width="5.0"/>
<polygon points="251.8,51.1 273.4,70.6 251.8,90.1 230.3,70.6" fill="#ff0000"/>
<polygon points="365.1,322.5 386.6,342.0 365.1,361.5 343.6,342.0" fill="#ff0000"/>
<polygon points="478.4,518.0 499.9,537.5 478.4,557.0 456.9,537.5" fill="#ff0000"/>
<polygon points="591.7,715.6 613.2,735.1 591.7,754.6 570.2,735.1" fill="#ff0000"/>
<polygon points="705.0,985.0 726.5,1004.5 705.0,1024.0 683.5,1004.5" fill="#ff0000"/>
<polygon points="818.3,1197.4 839.8,1216.9 818.3,1236.4 796.8,1216.9" fill="#ff0000"/>
<polygon points="931.6,1234.6 953.1,1254.1 931.6,1273.6 910.1,1254.1" fill="#ff0000"/>
<polygon points="1044.8,1236.0 1066.3,1255.5 1044.8,1275.0 1023.3,1255.5" fill="#ff0000"/>
<polygon points="1158.1,1231.6 1179.6,1251.1 1158.1,1270.6 1136.6,1251.1" fill="#ff0000"/>
<polygon points="1271.4,1238.9 1292.9,1258.4 1271.4,1277.9 1249.9,1258.4" fill="#ff0000"/>
<polygon points="1384.7,1323.6 1406.2,1343.1 1384.7,1362.6 1363.2,1343.1" fill="#ff0000"/>
<polygon points="1498.0,1330.0 1519.5,1349.5 1498.0,1369.0 1476.5,1349.5" fill="#ff0000"/>
<polygon points="1611.3,1317.3 1632.8,1336.8 1611.3,1356.3 1589.8,1336.8" fill="#ff0000"/>
<polygon points="1724.5,1318.9 1746.0,1338.4 1724.5,1357.9 1703.0,1338.4" fill="#ff0000"/>
<polygon points="1837.8,1325.8 1859.3,1345.3 1837.8,1364.8 1816.3,1345.3" fill="#ff0000"/>
<polygon points="1951.1,1332.0 1972.6,1351.5 1951.1,1371.0 1929.6,1351.5" fill="#ff0000"/>
<polygon points="2064.4,1333.8 2085.9,1353.3 2064.4,1372.8 2042.9,1353.3" fill="#ff0000"/>
<path d="M251.8 82.2 L260.2 99.1 L268.4 115.5 L276.4 131.3 L284.2 146.6 L291.8 161.4 L299.2 175.7 L306.4 189.5 L313.4 202.8 L320.3 215.7 L326.9 228.1 L333.4 240.1 L339.8 251.8 L346.0 263.0 L352.0 273.8 L357.9 284.3 L363.6 294.4 L369.2 304.1 L374.7 313.6 L380.0 322.7 L385.2 331.6 L390.3 340.1 L395.2 348.4 L400.1 356.4 L404.8 364.2 L409.4 371.8 L413.9 379.1 L418.3 386.3 L422.7 393.3 L426.9 400.1 L431.1 406.7 L435.1 413.3 L439.1 419.6 L443.1 425.9 L446.9 432.1 L450.7 438.2 L454.5 444.2 L458.2 450.2 L461.8 456.1 L465.4 462.0 L469.0 467.9 L472.5 473.7 L476.0 479.6 L479.4 485.5 L482.9 491.4 L486.3 497.3 L489.6 503.3 L492.9 509.2 L496.2 515.1 L499.5 521.1 L502.8 527.1 L506.0 533.0 L509.2 539.1 L512.3 545.1 L515.5 551.2 L518.6 557.3 L521.7 563.4 L524.8 569.5 L527.8 575.7 L530.9 581.9 L533.9 588.1 L536.9 594.4 L539.9 600.7 L542.8 607.1 L545.8 613.5 L548.7 620.0 L551.6 626.4 L554.6 633.0 L557.5 639.6 L560.4 646.2 L563.2 652.9 L566.1 659.6 L569.0 666.4 L571.8 673.3 L574.7 680.2 L577.5 687.2 L580.4 694.2 L583.2 701.3 L586.0 708.5 L588.9 715.8 L591.7 723.1 L594.5 730.5 L597.4 737.9 L600.2 745.4 L603.0 753.0 L605.9 760.6 L608.7 768.3 L611.5 776.0 L614.4 783.7 L617.2 791.5 L620.0 799.3 L622.9 807.2 L625.7 815.0 L628.5 822.9 L631.4 830.8 L634.2 838.6 L637.0 846.5 L639.8 854.4 L642.7 862.3 L645.5 870.1 L648.3 877.9 L651.2 885.7 L654.0 893.5 L656.8 901.2 L659.7 908.9 L662.5 916.6 L665.3 924.2 L668.2 931.7 L671.0 939.2 L673.8 946.6 L676.7 954.0 L679.5 961.3 L682.3 968.5 L685.2 975.6 L688.0 982.6 L690.8 989.6 L693.7 996.4 L696.5 1003.1 L699.3 1009.8 L702.2 1016.3 L705.0 1022.7 L707.8 1028.9 L710.7 1035.1 L713.5 1041.1 L716.3 1047.0 L719.1 1052.8 L722.0 1058.5 L724.8 1064.1 L727.6 1069.5 L730.5 1074.9 L733.3 1080.1 L736.1 1085.2 L739.0 1090.2 L741.8 1095.0 L744.6 1099.8 L747.5 1104.5 L750.3 1109.0 L753.1 1113.5 L756.0 1117.8 L758.8 1122.0 L761.6 1126.1 L764.5 1130.2 L767.3 1134.1 L770.1 1137.9 L773.0 1141.6 L775.8 1145.2 L778.6 1148.7 L781.5 1152.2 L784.3 1155.5 L787.1 1158.7 L790.0 1161.8 L792.8 1164.9 L795.6 1167.8 L798.4 1170.6 L801.3 1173.4 L804.1 1176.0 L806.9 1178.6 L809.8 1181.1 L812.6 1183.5 L815.4 1185.8 L818.3 1188.0 L821.1 1190.1 L823.9 1192.2 L826.8 1194.2 L829.6 1196.0 L832.4 1197.9 L835.3 1199.6 L838.1 1201.3 L840.9 1202.9 L843.8 1204.4 L846.6 1205.8 L849.4 1207.2 L852.3 1208.6 L855.1 1209.9 L857.9 1211.1 L860.8 1212.3 L863.6 1213.4 L866.4 1214.4 L869.2 1215.5 L872.1 1216.4 L874.9 1217.4 L877.7 1218.3 L880.6 1219.1 L883.4 1219.9 L886.2 1220.7 L889.1 1221.5 L891.9 1222.2 L894.7 1222.9 L897.6 1223.6 L900.4 1224.2 L903.2 1224.9 L906.1 1225.5 L908.9 1226.1 L911.7 1226.7 L914.6 1227.2 L917.4 1227.8 L920.2 1228.4 L923.1 1228.9 L925.9 1229.5 L928.7 1230.0 L931.6 1230.6 L934.4 1231.2 L937.2 1231.7 L940.1 1232.3 L942.9 1232.9 L945.7 1233.4 L948.5 1234.0 L951.4 1234.6 L954.2 1235.2 L957.0 1235.8 L959.9 1236.4 L962.7 1237.0 L965.5 1237.6 L968.4 1238.1 L971.2 1238.7 L974.0 1239.3 L976.9 1239.9 L979.7 1240.5 L982.5 1241.1 L985.4 1241.7 L988.2 1242.3 L991.0 1242.8 L993.9 1243.4 L996.7 1244.0 L999.5 1244.5 L1002.4 1245.1 L1005.2 1245.7 L1008.0 1246.2 L1010.9 1246.8 L1013.7 1247.3 L1016.5 1247.8 L1019.4 1248.4 L1022.2 1248.9 L1025.0 1249.4 L1027.8 1249.9 L1030.7 1250.4 L1033.5 1250.9 L1036.3 1251.3 L1039.2 1251.8 L1042.0 1252.3 L1044.8 1252.7 L1047.7 1253.1 L1050.5 1253.6 L1053.3 1254.0 L1056.2 1254.4 L1059.0 1254.8 L1061.8 1255.1 L1064.7 1255.5 L1067.5 1255.9 L1070.3 1256.2 L1073.2 1256.6 L1076.0 1256.9 L1078.8 1257.3 L1081.7 1257.6 L1084.5 1257.9 L1087.3 1258.3 L1090.2 1258.6 L1093.0 1258.9 L1095.8 1259.2 L1098.7 1259.5 L1101.5 1259.8 L1104.3 1260.1 L1107.1 1260.4 L1110.0 1260.7 L1112.8 1261.0 L1115.6 1261.3 L1118.5 1261.6 L1121.3 1261.8 L1124.1 1262.1 L1127.0 1262.4 L1129.8 1262.7 L1132.6 1263.0 L1135.5 1263.3 L1138.3 1263.6 L1141.1 1263.9 L1144.0 1264.2 L1146.8 1264.5 L1149.6 1264.8 L1152.5 1265.2 L1155.3 1265.5 L1158.1 1265.8 L1161.0 1266.1 L1163.8 1266.5 L1166.6 1266.8 L1169.5 1267.2 L1172.3 1267.5 L1175.1 1267.9 L1177.9 1268.3 L1180.8 1268.6 L1183.6 1269.0 L1186.4 1269.4 L1189.3 1269.8 L1192.1 1270.2 L1194.9 1270.6 L1197.8 1271.0 L1200.6 1271.4 L1203.4 1271.8 L1206.3 1272.3 L1209.1 1272.7 L1211.9 1273.1 L1214.8 1273.6 L1217.6 1274.0 L1220.4 1274.5 L1223.3 1274.9 L1226.1 1275.4 L1228.9 1275.9 L1231.8 1276.3 L1234.6 1276.8 L1237.4 1277.3 L1240.3 1277.8 L1243.1 1278.3 L1245.9 1278.8 L1248.8 1279.3 L1251.6 1279.8 L1254.4 1280.4 L1257.2 1280.9 L1260.1 1281.4 L1262.9 1282.0 L1265.7 1282.5 L1268.6 1283.1 L1271.4 1283.6 L1274.2 1284.2 L1277.1 1284.7 L1279.9 1285.3 L1282.7 1285.9 L1285.6 1286.5 L1288.4 1287.1 L1291.2 1287.7 L1294.1 1288.3 L1296.9 1288.9 L1299.7 1289.5 L1302.6 1290.1 L1305.4 1290.7 L1308.2 1291.4 L1311.1 1292.0 L1313.9 1292.6 L1316.7 1293.3 L1319.6 1293.9 L1322.4 1294.6 L1325.2 1295.2 L1328.1 1295.9 L1330.9 1296.6 L1333.7 1297.2 L1336.5 1297.9 L1339.4 1298.6 L1342.2 1299.3 L1345.0 1300.0 L1347.9 1300.7 L1350.7 1301.4 L1353.5 1302.1 L1356.4 1302.8 L1359.2 1303.5 L1362.0 1304.2 L1364.9 1304.9 L1367.7 1305.6 L1370.5 1306.4 L1373.4 1307.1 L1376.2 1307.8 L1379.0 1308.6 L1381.9 1309.3 L1384.7 1310.1 L1387.5 1310.8 L1390.4 1311.6 L1393.2 1312.3 L1396.0 1313.1 L1398.9 1313.9 L1401.7 1314.6 L1404.5 1315.4 L1407.4 1316.2 L1410.2 1316.9 L1413.0 1317.7 L1415.8 1318.5 L1418.7 1319.2 L1421.5 1320.0 L1424.3 1320.8 L1427.2 1321.5 L1430.0 1322.3 L1432.8 1323.1 L1435.7 1323.8 L1438.5 1324.6 L1441.3 1325.3 L1444.2 1326.1 L1447.0 1326.8 L1449.8 1327.6 L1452.7 1328.3 L1455.5 1329.0 L1458.3 1329.8 L1461.2 1330.5 L1464.0 1331.2 L1466.8 1331.9 L1469.7 1332.6 L1472.5 1333.3 L1475.3 1334.0 L1478.2 1334.6 L1481.0 1335.3 L1483.8 1336.0 L1486.6 1336.6 L1489.5 1337.3 L1492.3 1337.9 L1495.1 1338.5 L1498.0 1339.1 L1500.8 1339.7 L1503.6 1340.3 L1506.5 1340.9 L1509.3 1341.4 L1512.1 1342.0 L1515.0 1342.5 L1517.8 1343.1 L1520.6 1343.6 L1523.5 1344.1 L1526.3 1344.6 L1529.1 1345.1 L1532.0 1345.6 L1534.8 1346.1 L1537.6 1346.5 L1540.5 1347.0 L1543.3 1347.5 L1546.1 1347.9 L1549.0 1348.3 L1551.8 1348.7 L1554.6 1349.2 L1557.5 1349.6 L1560.3 1350.0 L1563.1 1350.4 L1565.9 1350.7 L1568.8 1351.1 L1571.6 1351.5 L1574.4 1351.8 L1577.3 1352.2 L1580.1 1352.5 L1582.9 1352.9 L1585.8 1353.2 L1588.6 1353.5 L1591.4 1353.8 L1594.3 1354.1 L1597.1 1354.4 L1599.9 1354.7 L1602.8 1355.0 L1605.6 1355.3 L1608.4 1355.6 L1611.3 1355.8 L1614.1 1356.1 L1616.9 1356.4 L1619.8 1356.6 L1622.6 1356.9 L1625.4 1357.1 L1628.3 1357.4 L1631.1 1357.6 L1633.9 1357.8 L1636.8 1358.1 L1639.6 1358.3 L1642.4 1358.5 L1645.2 1358.7 L1648.1 1358.9 L1650.9 1359.1 L1653.7 1359.3 L1656.6 1359.5 L1659.4 1359.7 L1662.2 1359.9 L1665.1 1360.1 L1667.9 1360.3 L1670.7 1360.5 L1673.6 1360.7 L1676.4 1360.9 L1679.2 1361.1 L1682.1 1361.3 L1684.9 1361.5 L1687.7 1361.7 L1690.6 1361.8 L1693.4 1362.0 L1696.2 1362.2 L1699.1 1362.4 L1701.9 1362.6 L1704.7 1362.8 L1707.6 1363.0 L1710.4 1363.2 L1713.2 1363.4 L1716.1 1363.6 L1718.9 1363.7 L1721.7 1363.9 L1724.5 1364.1 L1727.4 1364.3 L1730.2 1364.5 L1733.0 1364.8 L1735.9 1365.0 L1738.7 1365.2 L1741.6 1365.4 L1744.4 1365.6 L1747.3 1365.8 L1750.1 1366.0 L1753.0 1366.2 L1755.9 1366.4 L1758.8 1366.7 L1761.7 1366.9 L1764.6 1367.1 L1767.5 1367.3 L1770.5 1367.5 L1773.4 1367.7 L1776.4 1367.9 L1779.4 1368.2 L1782.4 1368.4 L1785.4 1368.6 L1788.4 1368.8 L1791.5 1369.0 L1794.6 1369.2 L1797.7 1369.4 L1800.8 1369.6 L1803.9 1369.8 L1807.1 1370.0 L1810.3 1370.2 L1813.5 1370.3 L1816.7 1370.5 L1820.0 1370.7 L1823.3 1370.9 L1826.6 1371.0 L1830.0 1371.2 L1833.4 1371.4 L1836.8 1371.5 L1840.3 1371.7 L1843.7 1371.8 L1847.3 1372.0 L1850.8 1372.1 L1854.4 1372.2 L1858.1 1372.4 L1861.8 1372.5 L1865.5 1372.6 L1869.3 1372.7 L1873.2 1372.8 L1877.1 1372.9 L1881.1 1373.0 L1885.2 1373.1 L1889.3 1373.2 L1893.6 1373.3 L1897.9 1373.4 L1902.3 1373.5 L1906.8 1373.6 L1911.5 1373.7 L1916.2 1373.8 L1921.0 1373.9 L1926.0 1374.0 L1931.1 1374.1 L1936.3 1374.2 L1941.6 1374.3 L1947.0 1374.4 L1952.6 1374.5 L1958.4 1374.6 L1964.2 1374.7 L1970.3 1374.8 L1976.5 1374.9 L1982.8 1375.0 L1989.3 1375.1 L1996.0 1375.3 L2002.8 1375.4 L2009.9 1375.5 L2017.1 1375.7 L2024.5 1375.8 L2032.1 1376.0 L2039.8 1376.1 L2047.8 1376.3 L2056.0 1376.5 L2064.4 1376.6" stroke="#0000ee" stroke-width="5.0"/>
<polygon points="251.8,60.5 271.9,96.1 231.8,96.1" fill="#0000ff"/>
<polygon points="365.1,289.6 385.1,325.2 345.1,325.2" fill="#0000ff"/>
<polygon points="478.4,445.8 498.4,481.4 458.4,481.4" fill="#0000ff"/>
<polygon points="591.7,682.2 611.7,717.8 571.7,717.8" fill="#0000ff"/>
<polygon points="705.0,1033.6 725.0,1069.2 685.0,1069.2" fill="#0000ff"/>
<polygon points="818.3,1189.2 838.3,1224.8 798.3,1224.8" fill="#0000ff"/>
<polygon points="931.6,1207.5 951.6,1243.1 911.6,1243.1" fill="#0000ff"/>
<polygon points="1044.8,1234.0 1064.8,1269.6 1024.8,1269.6" fill="#0000ff"/>
<polygon points="1158.1,1242.6 1178.1,1278.2 1138.1,1278.2" fill="#0000ff"/>
<polygon points="1271.4,1260.4 1291.4,1296.0 1251.4,1296.0" fill="#0000ff"/>
<polygon points="1384.7,1287.4 1404.7,1323.0 1364.7,1323.0" fill="#0000ff"/>
<polygon points="1498.0,1320.3 1518.0,1355.9 1478.0,1355.9" fill="#0000ff"/>
<polygon points="1611.3,1335.7 1631.3,1371.3 1591.3,1371.3" fill="#0000ff"/>
<polygon points="1724.5,1341.8 1744.5,1377.4 1704.5,1377.4" fill="#0000ff"/>
<polygon points="1837.8,1351.7 1857.8,1387.3 1817.8,1387.3" fill="#0000ff"/>
<polygon points="1951.1,1352.4 1971.1,1388.0 1931.1,1388.0" fill="#0000ff"/>
<polygon points="2064.4,1354.9 2084.4,1390.5 2044.4,1390.5" fill="#0000ff"/>
<path d="M251.8 285.1 L260.2 317.0 L268.4 347.9 L276.4 378.0 L284.2 407.2 L291.8 435.5 L299.2 463.0 L306.4 489.7 L313.4 515.5 L320.3 540.6 L326.9 564.9 L333.4 588.5 L339.8 611.4 L346.0 633.5 L352.0 654.9 L357.9 675.7 L363.6 695.9 L369.2 715.3 L374.7 734.2 L380.0 752.5 L385.2 770.2 L390.3 787.3 L395.2 803.9 L400.1 820.0 L404.8 835.5 L409.4 850.6 L413.9 865.2 L418.3 879.4 L422.7 893.1 L426.9 906.4 L431.1 919.3 L435.1 931.9 L439.1 944.0 L443.1 955.9 L446.9 967.4 L450.7 978.6 L454.5 989.5 L458.2 1000.2 L461.8 1010.6 L465.4 1020.8 L469.0 1030.8 L472.5 1040.6 L476.0 1050.2 L479.4 1059.6 L482.9 1068.8 L486.3 1077.9 L489.6 1086.7 L492.9 1095.4 L496.2 1103.9 L499.5 1112.2 L502.8 1120.3 L506.0 1128.2 L509.2 1136.0 L512.3 1143.6 L515.5 1151.0 L518.6 1158.2 L521.7 1165.3 L524.8 1172.2 L527.8 1178.9 L530.9 1185.4 L533.9 1191.8 L536.9 1198.0 L539.9 1204.0 L542.8 1209.9 L545.8 1215.6 L548.7 1221.2 L551.6 1226.5 L554.6 1231.8 L557.5 1236.8 L560.4 1241.7 L563.2 1246.5 L566.1 1251.1 L569.0 1255.5 L571.8 1259.8 L574.7 1263.9 L577.5 1267.9 L580.4 1271.7 L583.2 1275.4 L586.0 1278.9 L588.9 1282.3 L591.7 1285.5 L594.5 1288.6 L597.4 1291.5 L600.2 1294.4 L603.0 1297.0 L605.9 1299.6 L608.7 1302.0 L611.5 1304.3 L614.4 1306.5 L617.2 1308.5 L620.0 1310.5 L622.9 1312.3 L625.7 1314.0 L628.5 1315.7 L631.4 1317.2 L634.2 1318.6 L637.0 1320.0 L639.8 1321.2 L642.7 1322.4 L645.5 1323.5 L648.3 1324.5 L651.2 1325.4 L654.0 1326.3 L656.8 1327.1 L659.7 1327.8 L662.5 1328.5 L665.3 1329.1 L668.2 1329.6 L671.0 1330.1 L673.8 1330.6 L676.7 1331.0 L679.5 1331.4 L682.3 1331.8 L685.2 1332.1 L688.0 1332.3 L690.8 1332.6 L693.7 1332.8 L696.5 1333.1 L699.3 1333.3 L702.2 1333.5 L705.0 1333.6 L707.8 1333.8 L710.7 1334.0 L713.5 1334.2 L716.3 1334.3 L719.1 1334.5 L722.0 1334.7 L724.8 1334.8 L727.6 1335.0 L730.5 1335.1 L733.3 1335.3 L736.1 1335.4 L739.0 1335.6 L741.8 1335.7 L744.6 1335.8 L747.5 1336.0 L750.3 1336.1 L753.1 1336.2 L756.0 1336.3 L758.8 1336.5 L761.6 1336.6 L764.5 1336.7 L767.3 1336.8 L770.1 1336.9 L773.0 1337.0 L775.8 1337.2 L778.6 1337.3 L781.5 1337.4 L784.3 1337.5 L787.1 1337.6 L790.0 1337.7 L792.8 1337.8 L795.6 1337.9 L798.4 1338.0 L801.3 1338.1 L804.1 1338.2 L806.9 1338.3 L809.8 1338.4 L812.6 1338.5 L815.4 1338.6 L818.3 1338.7 L821.1 1338.7 L823.9 1338.8 L826.8 1338.9 L829.6 1339.0 L832.4 1339.1 L835.3 1339.2 L838.1 1339.3 L840.9 1339.4 L843.8 1339.5 L846.6 1339.6 L849.4 1339.7 L852.3 1339.8 L855.1 1339.9 L857.9 1340.0 L860.8 1340.1 L863.6 1340.1 L866.4 1340.2 L869.2 1340.3 L872.1 1340.4 L874.9 1340.5 L877.7 1340.6 L880.6 1340.7 L883.4 1340.8 L886.2 1340.9 L889.1 1341.0 L891.9 1341.1 L894.7 1341.2 L897.6 1341.2 L900.4 1341.3 L903.2 1341.4 L906.1 1341.5 L908.9 1341.6 L911.7 1341.7 L914.6 1341.8 L917.4 1341.9 L920.2 1342.0 L923.1 1342.1 L925.9 1342.1 L928.7 1342.2 L931.6 1342.3 L934.4 1342.4 L937.2 1342.5 L940.1 1342.6 L942.9 1342.7 L945.7 1342.8 L948.5 1342.9 L951.4 1342.9 L954.2 1343.0 L957.0 1343.1 L959.9 1343.2 L962.7 1343.3 L965.5 1343.4 L968.4 1343.5 L971.2 1343.5 L974.0 1343.6 L976.9 1343.7 L979.7 1343.8 L982.5 1343.9 L985.4 1343.9 L988.2 1344.0 L991.0 1344.1 L993.9 1344.2 L996.7 1344.3 L999.5 1344.3 L1002.4 1344.4 L1005.2 1344.5 L1008.0 1344.5 L1010.9 1344.6 L1013.7 1344.7 L1016.5 1344.7 L1019.4 1344.8 L1022.2 1344.9 L1025.0 1344.9 L1027.8 1345.0 L1030.7 1345.0 L1033.5 1345.1 L1036.3 1345.1 L1039.2 1345.2 L1042.0 1345.2 L1044.8 1345.3 L1047.7 1345.3 L1050.5 1345.4 L1053.3 1345.4 L1056.2 1345.4 L1059.0 1345.5 L1061.8 1345.5 L1064.7 1345.5 L1067.5 1345.6 L1070.3 1345.6 L1073.2 1345.6 L1076.0 1345.6 L1078.8 1345.6 L1081.7 1345.7 L1084.5 1345.7 L1087.3 1345.7 L1090.2 1345.7 L1093.0 1345.7 L1095.8 1345.7 L1098.7 1345.7 L1101.5 1345.8 L1104.3 1345.8 L1107.1 1345.8 L1110.0 1345.8 L1112.8 1345.8 L1115.6 1345.8 L1118.5 1345.8 L1121.3 1345.8 L1124.1 1345.8 L1127.0 1345.8 L1129.8 1345.8 L1132.6 1345.7 L1135.5 1345.7 L1138.3 1345.7 L1141.1 1345.7 L1144.0 1345.7 L1146.8 1345.7 L1149.6 1345.7 L1152.5 1345.7 L1155.3 1345.7 L1158.1 1345.6 L1161.0 1345.6 L1163.8 1345.6 L1166.6 1345.6 L1169.5 1345.6 L1172.3 1345.5 L1175.1 1345.5 L1177.9 1345.5 L1180.8 1345.5 L1183.6 1345.5 L1186.4 1345.4 L1189.3 1345.4 L1192.1 1345.4 L1194.9 1345.3 L1197.8 1345.3 L1200.6 1345.3 L1203.4 1345.3 L1206.3 1345.2 L1209.1 1345.2 L1211.9 1345.2 L1214.8 1345.1 L1217.6 1345.1 L1220.4 1345.1 L1223.3 1345.0 L1226.1 1345.0 L1228.9 1345.0 L1231.8 1344.9 L1234.6 1344.9 L1237.4 1344.8 L1240.3 1344.8 L1243.1 1344.8 L1245.9 1344.7 L1248.8 1344.7 L1251.6 1344.6 L1254.4 1344.6 L1257.2 1344.5 L1260.1 1344.5 L1262.9 1344.4 L1265.7 1344.4 L1268.6 1344.3 L1271.4 1344.3 L1274.2 1344.2 L1277.1 1344.2 L1279.9 1344.1 L1282.7 1344.1 L1285.6 1344.0 L1288.4 1343.9 L1291.2 1343.9 L1294.1 1343.8 L1296.9 1343.8 L1299.7 1343.7 L1302.6 1343.6 L1305.4 1343.6 L1308.2 1343.5 L1311.1 1343.5 L1313.9 1343.4 L1316.7 1343.4 L1319.6 1343.3 L1322.4 1343.2 L1325.2 1343.2 L1328.1 1343.1 L1330.9 1343.1 L1333.7 1343.0 L1336.5 1342.9 L1339.4 1342.9 L1342.2 1342.8 L1345.0 1342.8 L1347.9 1342.7 L1350.7 1342.7 L1353.5 1342.6 L1356.4 1342.6 L1359.2 1342.5 L1362.0 1342.5 L1364.9 1342.4 L1367.7 1342.4 L1370.5 1342.4 L1373.4 1342.3 L1376.2 1342.3 L1379.0 1342.2 L1381.9 1342.2 L1384.7 1342.2 L1387.5 1342.2 L1390.4 1342.1 L1393.2 1342.1 L1396.0 1342.1 L1398.9 1342.1 L1401.7 1342.0 L1404.5 1342.0 L1407.4 1342.0 L1410.2 1342.0 L1413.0 1342.0 L1415.8 1342.0 L1418.7 1342.0 L1421.5 1342.0 L1424.3 1342.1 L1427.2 1342.1 L1430.0 1342.1 L1432.8 1342.1 L1435.7 1342.2 L1438.5 1342.2 L1441.3 1342.3 L1444.2 1342.3 L1447.0 1342.4 L1449.8 1342.5 L1452.7 1342.6 L1455.5 1342.6 L1458.3 1342.7 L1461.2 1342.8 L1464.0 1343.0 L1466.8 1343.1 L1469.7 1343.2 L1472.5 1343.3 L1475.3 1343.5 L1478.2 1343.7 L1481.0 1343.8 L1483.8 1344.0 L1486.6 1344.2 L1489.5 1344.4 L1492.3 1344.6 L1495.1 1344.8 L1498.0 1345.0 L1500.8 1345.3 L1503.6 1345.5 L1506.5 1345.8 L1509.3 1346.0 L1512.1 1346.3 L1515.0 1346.6 L1517.8 1346.9 L1520.6 1347.2 L1523.5 1347.6 L1526.3 1347.9 L1529.1 1348.2 L1532.0 1348.6 L1534.8 1349.0 L1537.6 1349.3 L1540.5 1349.7 L1543.3 1350.1 L1546.1 1350.5 L1549.0 1350.9 L1551.8 1351.3 L1554.6 1351.7 L1557.5 1352.2 L1560.3 1352.6 L1563.1 1353.1 L1565.9 1353.5 L1568.8 1354.0 L1571.6 1354.5 L1574.4 1354.9 L1577.3 1355.4 L1580.1 1355.9 L1582.9 1356.4 L1585.8 1356.9 L1588.6 1357.4 L1591.4 1358.0 L1594.3 1358.5 L1597.1 1359.0 L1599.9 1359.6 L1602.8 1360.1 L1605.6 1360.7 L1608.4 1361.2 L1611.3 1361.8 L1614.1 1362.4 L1616.9 1363.0 L1619.8 1363.5 L1622.6 1364.1 L1625.4 1364.7 L1628.3 1365.3 L1631.1 1365.9 L1633.9 1366.5 L1636.8 1367.1 L1639.6 1367.7 L1642.4 1368.4 L1645.2 1369.0 L1648.1 1369.6 L1650.9 1370.2 L1653.7 1370.8 L1656.6 1371.5 L1659.4 1372.1 L1662.2 1372.7 L1665.1 1373.4 L1667.9 1374.0 L1670.7 1374.6 L1673.6 1375.3 L1676.4 1375.9 L1679.2 1376.5 L1682.1 1377.2 L1684.9 1377.8 L1687.7 1378.4 L1690.6 1379.0 L1693.4 1379.7 L1696.2 1380.3 L1699.1 1380.9 L1701.9 1381.5 L1704.7 1382.2 L1707.6 1382.8 L1710.4 1383.4 L1713.2 1384.0 L1716.1 1384.6 L1718.9 1385.2 L1721.7 1385.8 L1724.5 1386.4 L1727.4 1387.0 L1730.2 1387.6 L1733.0 1388.2 L1735.9 1388.8 L1738.7 1389.3 L1741.6 1389.9 L1744.4 1390.5 L1747.3 1391.0 L1750.1 1391.6 L1753.0 1392.2 L1755.9 1392.7 L1758.8 1393.3 L1761.7 1393.8 L1764.6 1394.3 L1767.5 1394.9 L1770.5 1395.4 L1773.4 1395.9 L1776.4 1396.5 L1779.4 1397.0 L1782.4 1397.5 L1785.4 1398.0 L1788.4 1398.5 L1791.5 1399.0 L1794.6 1399.6 L1797.7 1400.1 L1800.8 1400.6 L1803.9 1401.1 L1807.1 1401.5 L1810.3 1402.0 L1813.5 1402.5 L1816.7 1403.0 L1820.0 1403.5 L1823.3 1404.0 L1826.6 1404.5 L1830.0 1404.9 L1833.4 1405.4 L1836.8 1405.9 L1840.3 1406.3 L1843.7 1406.8 L1847.3 1407.3 L1850.8 1407.7 L1854.4 1408.2 L1858.1 1408.6 L1861.8 1409.1 L1865.5 1409.5 L1869.3 1410.0 L1873.2 1410.4 L1877.1 1410.8 L1881.1 1411.2 L1885.2 1411.7 L1889.3 1412.1 L1893.6 1412.4 L1897.9 1412.8 L1902.3 1413.2 L1906.8 1413.5 L1911.5 1413.9 L1916.2 1414.2 L1921.0 1414.5 L1926.0 1414.8 L1931.1 1415.1 L1936.3 1415.4 L1941.6 1415.7 L1947.0 1415.9 L1952.6 1416.1 L1958.4 1416.3 L1964.2 1416.5 L1970.3 1416.7 L1976.5 1416.8 L1982.8 1416.9 L1989.3 1417.0 L1996.0 1417.1 L2002.8 1417.1 L2009.9 1417.2 L2017.1 1417.2 L2024.5 1417.1 L2032.1 1417.1 L2039.8 1417.0 L2047.8 1416.9 L2056.0 1416.8 L2064.4 1416.6" stroke="#e6c071" stroke-width="5.0"/>
<polygon points="251.8,266.5 269.9,298.4 233.8,298.4" fill="#fff" stroke="#e6c071" stroke-width="1.1" stroke-linejoin="miter"/>
<polygon points="365.1,697.5 383.1,729.5 347.1,729.5" fill="#fff" stroke="#e6c071" stroke-width="1.1" stroke-linejoin="miter"/>
<polygon points="478.4,1063.2 496.4,1095.2 460.4,1095.2" fill="#fff" stroke="#e6c071" stroke-width="1.1" stroke-linejoin="miter"/>
<polygon points="591.7,1305.5 609.7,1337.4 573.7,1337.4" fill="#fff" stroke="#e6c071" stroke-width="1.1" stroke-linejoin="miter"/>
<polygon points="705.0,1316.1 723.0,1348.1 687.0,1348.1" fill="#fff" stroke="#e6c071" stroke-width="1.1" stroke-linejoin="miter"/>
<polygon points="818.3,1320.1 836.3,1352.0 800.3,1352.0" fill="#fff" stroke="#e6c071" stroke-width="1.1" stroke-linejoin="miter"/>
<polygon points="931.6,1323.7 949.6,1355.7 913.6,1355.7" fill="#fff" stroke="#e6c071" stroke-width="1.1" stroke-linejoin="miter"/>
<polygon points="1044.8,1327.2 1062.8,1359.2 1026.8,1359.2" fill="#fff" stroke="#e6c071" stroke-width="1.1" stroke-linejoin="miter"/>
<polygon points="1158.1,1327.2 1176.1,1359.2 1140.1,1359.2" fill="#fff" stroke="#e6c071" stroke-width="1.1" stroke-linejoin="miter"/>
<polygon points="1271.4,1325.9 1289.4,1357.9 1253.4,1357.9" fill="#fff" stroke="#e6c071" stroke-width="1.1" stroke-linejoin="miter"/>
<polygon points="1384.7,1323.0 1402.7,1355.0 1366.7,1355.0" fill="#fff" stroke="#e6c071" stroke-width="1.1" stroke-linejoin="miter"/>
<polygon points="1498.0,1323.4 1516.0,1355.4 1480.0,1355.4" fill="#fff" stroke="#e6c071" stroke-width="1.1" stroke-linejoin="miter"/>
<polygon points="1611.3,1341.7 1629.3,1373.6 1593.3,1373.6" fill="#fff" stroke="#e6c071" stroke-width="1.1" stroke-linejoin="miter"/>
<polygon points="1724.5,1369.0 1742.5,1400.9 1706.5,1400.9" fill="#fff" stroke="#e6c071" stroke-width="1.1" stroke-linejoin="miter"/>
<polygon points="1837.8,1389.3 1855.8,1421.2 1819.8,1421.2" fill="#fff" stroke="#e6c071" stroke-width="1.1" stroke-linejoin="miter"/>
<polygon points="1951.1,1400.3 1969.1,1432.3 1933.1,1432.3" fill="#fff" stroke="#e6c071" stroke-width="1.1" stroke-linejoin="miter"/>
<polygon points="2064.4,1398.0 2082.4,1430.0 2046.4,1430.0" fill="#fff" stroke="#e6c071" stroke-width="1.1" stroke-linejoin="miter"/>
</g>
<g stroke="#000" stroke-width="5.4" fill="none">
<line x1="2064.4" y1="48.9" x2="2064.4" y2="1538.4"/>
<line x1="2049.1" y1="1437.9" x2="2064.4" y2="1437.9"/>
<line x1="2034.7" y1="1365.0" x2="2064.4" y2="1365.0"/>
<line x1="2049.1" y1="1292.0" x2="2064.4" y2="1292.0"/>
<line x1="2034.7" y1="1219.0" x2="2064.4" y2="1219.0"/>
<line x1="2049.1" y1="1146.1" x2="2064.4" y2="1146.1"/>
<line x1="2034.7" y1="1073.1" x2="2064.4" y2="1073.1"/>
<line x1="2049.1" y1="1000.1" x2="2064.4" y2="1000.1"/>
<line x1="2034.7" y1="927.2" x2="2064.4" y2="927.2"/>
<line x1="2049.1" y1="854.2" x2="2064.4" y2="854.2"/>
<line x1="2034.7" y1="781.2" x2="2064.4" y2="781.2"/>
<line x1="2049.1" y1="708.3" x2="2064.4" y2="708.3"/>
<line x1="2034.7" y1="635.3" x2="2064.4" y2="635.3"/>
<line x1="2049.1" y1="562.4" x2="2064.4" y2="562.4"/>
<line x1="2034.7" y1="489.4" x2="2064.4" y2="489.4"/>
<line x1="2049.1" y1="416.4" x2="2064.4" y2="416.4"/>
<line x1="2034.7" y1="343.5" x2="2064.4" y2="343.5"/>
<line x1="2049.1" y1="270.5" x2="2064.4" y2="270.5"/>
<line x1="2034.7" y1="197.5" x2="2064.4" y2="197.5"/>
<line x1="2049.1" y1="124.6" x2="2064.4" y2="124.6"/>
<line x1="2034.7" y1="51.6" x2="2064.4" y2="51.6"/>
</g>
<line x1="476.7" y1="50.8" x2="480.4" y2="1533.5" stroke="#000" stroke-width="2.4" stroke-dasharray="8.8 9.18"/>
<line x1="1262.2" y1="36.0" x2="1265.9" y2="1519.1" stroke="#000" stroke-width="2.4" stroke-dasharray="8.8 9.18"/>
<line x1="1715.9" y1="27.0" x2="1715.9" y2="1510.0" stroke="#000" stroke-width="2.4" stroke-dasharray="8.8 9.18"/>
<g font-size="61.5">
<text transform="translate(202 1527.9) scale(1 1.045)" text-anchor="end">0.0</text>
<text transform="translate(202 1236.0) scale(1 1.045)" text-anchor="end">0.2</text>
<text transform="translate(202 944.2) scale(1 1.045)" text-anchor="end">0.4</text>
<text transform="translate(202 652.3) scale(1 1.045)" text-anchor="end">0.6</text>
<text transform="translate(202 360.5) scale(1 1.045)" text-anchor="end">0.8</text>
<text transform="translate(202 68.6) scale(1 1.045)" text-anchor="end">1.0</text>
<text transform="translate(2093.5 1527.2) scale(1 1.045)">400</text>
<text transform="translate(2093.5 1381.3) scale(1 1.045)">420</text>
<text transform="translate(2093.5 1235.3) scale(1 1.045)">440</text>
<text transform="translate(2093.5 1089.4) scale(1 1.045)">460</text>
<text transform="translate(2093.5 943.5) scale(1 1.045)">480</text>
<text transform="translate(2093.5 797.5) scale(1 1.045)">500</text>
<text transform="translate(2093.5 651.6) scale(1 1.045)">520</text>
<text transform="translate(2093.5 505.7) scale(1 1.045)">540</text>
<text transform="translate(2093.5 359.8) scale(1 1.045)">560</text>
<text transform="translate(2093.5 213.8) scale(1 1.045)">580</text>
<text transform="translate(2093.5 67.9) scale(1 1.045)">600</text>
<text transform="translate(250.5 1605.8) scale(1 1.045)" text-anchor="middle">0</text>
<text transform="translate(477.1 1605.8) scale(1 1.045)" text-anchor="middle">30</text>
<text transform="translate(703.7 1605.8) scale(1 1.045)" text-anchor="middle">60</text>
<text transform="translate(930.3 1605.8) scale(1 1.045)" text-anchor="middle">90</text>
<text transform="translate(1156.8 1605.8) scale(1 1.045)" text-anchor="middle">120</text>
<text transform="translate(1383.4 1605.8) scale(1 1.045)" text-anchor="middle">150</text>
<text transform="translate(1610.0 1605.8) scale(1 1.045)" text-anchor="middle">180</text>
<text transform="translate(1836.5 1605.8) scale(1 1.045)" text-anchor="middle">210</text>
<text transform="translate(2063.1 1605.8) scale(1 1.045)" text-anchor="middle">240</text>
</g>
<text font-size="76" text-anchor="middle" transform="translate(1156.7 1724.3) scale(1 1.04)">Reaction time, min</text>
<text font-size="76" text-anchor="middle" transform="translate(83.4 780.5) rotate(-90) scale(1 1.04)">Area. r.u.</text>
<text font-size="75.5" transform="translate(2287.6 1015.9) rotate(-90) scale(1 1.04)">λ<tspan font-size="50.3" dy="19.3">SPR</tspan><tspan dy="-19.3">(max), nm</tspan></text>
<text font-size="75.5" text-anchor="middle" transform="translate(379.6 588.8) scale(1 1.04)">I</text>
<text font-size="75.5" text-anchor="middle" transform="translate(879.5 598.2) scale(1 1.04)">II</text>
<text font-size="75.5" text-anchor="middle" transform="translate(1652.3 583.6) scale(1 1.04)">III</text>
<text font-size="75.5" text-anchor="middle" transform="translate(1931.1 585.5) scale(1 1.04)">IV</text>
<g fill="#000" stroke="none">
<rect x="292" y="1419.4" width="140" height="6.8"/>
<polygon points="248,1422.8 300,1409 296,1422.8 300,1436.6"/>
<rect x="1846" y="1446.7" width="155" height="6.8"/>
<polygon points="2047.5,1450.1 1994.8,1436.3 1998.8,1450.1 1994.8,1463.9"/>
</g>
<rect x="563.6" y="51.3" width="615.1" height="279" fill="#fff" stroke="#000" stroke-width="1.9"/>
<line x1="569.7" y1="90.7" x2="697.2" y2="90.7" stroke="#ee0000" stroke-width="5.4"/>
<rect x="616.9" y="74.7" width="32.0" height="32.0" fill="#ff0000"/>
<text font-size="52" transform="translate(709.8 107.7) scale(1.056 1.04)">NMW-CHG-AgNPs</text>
<line x1="569.7" y1="158.5" x2="697.2" y2="158.5" stroke="#10cc10" stroke-width="5.4"/>
<circle cx="632.9" cy="158.5" r="16.6" fill="#00dd00"/>
<text font-size="52" transform="translate(709.8 175.5) scale(1.056 1.04)">NMW-CHL-AgNPs</text>
<line x1="569.7" y1="225.4" x2="697.2" y2="225.4" stroke="#1f6fdb" stroke-width="5.4"/>
<polygon points="632.9,203.7 652.9,239.3 612.9,239.3" fill="#1f6fdb"/>
<text font-size="52" transform="translate(709.8 242.4) scale(1.056 1.04)">NMW-CHP-AgNPs</text>
<line x1="569.7" y1="294.8" x2="697.2" y2="294.8" stroke="#e6c071" stroke-width="5.4"/>
<polygon points="632.9,276.2 650.9,308.1 614.9,308.1" fill="#fff" stroke="#e6c071" stroke-width="1.1" stroke-linejoin="miter"/>
<text font-size="52" transform="translate(709.8 311.8) scale(1.056 1.04)">NMW-FA-AgNPs</text>
<g class="s" font-size="109">
<text transform="translate(1005.2 1998.5) scale(0.88 0.945)">(</text>
<text font-weight="bold" x="1037.3" y="1998.5">b</text>
<text transform="translate(1097.4 1998.5) scale(0.88 0.945)">)</text>
</g>
</svg></body></html>
